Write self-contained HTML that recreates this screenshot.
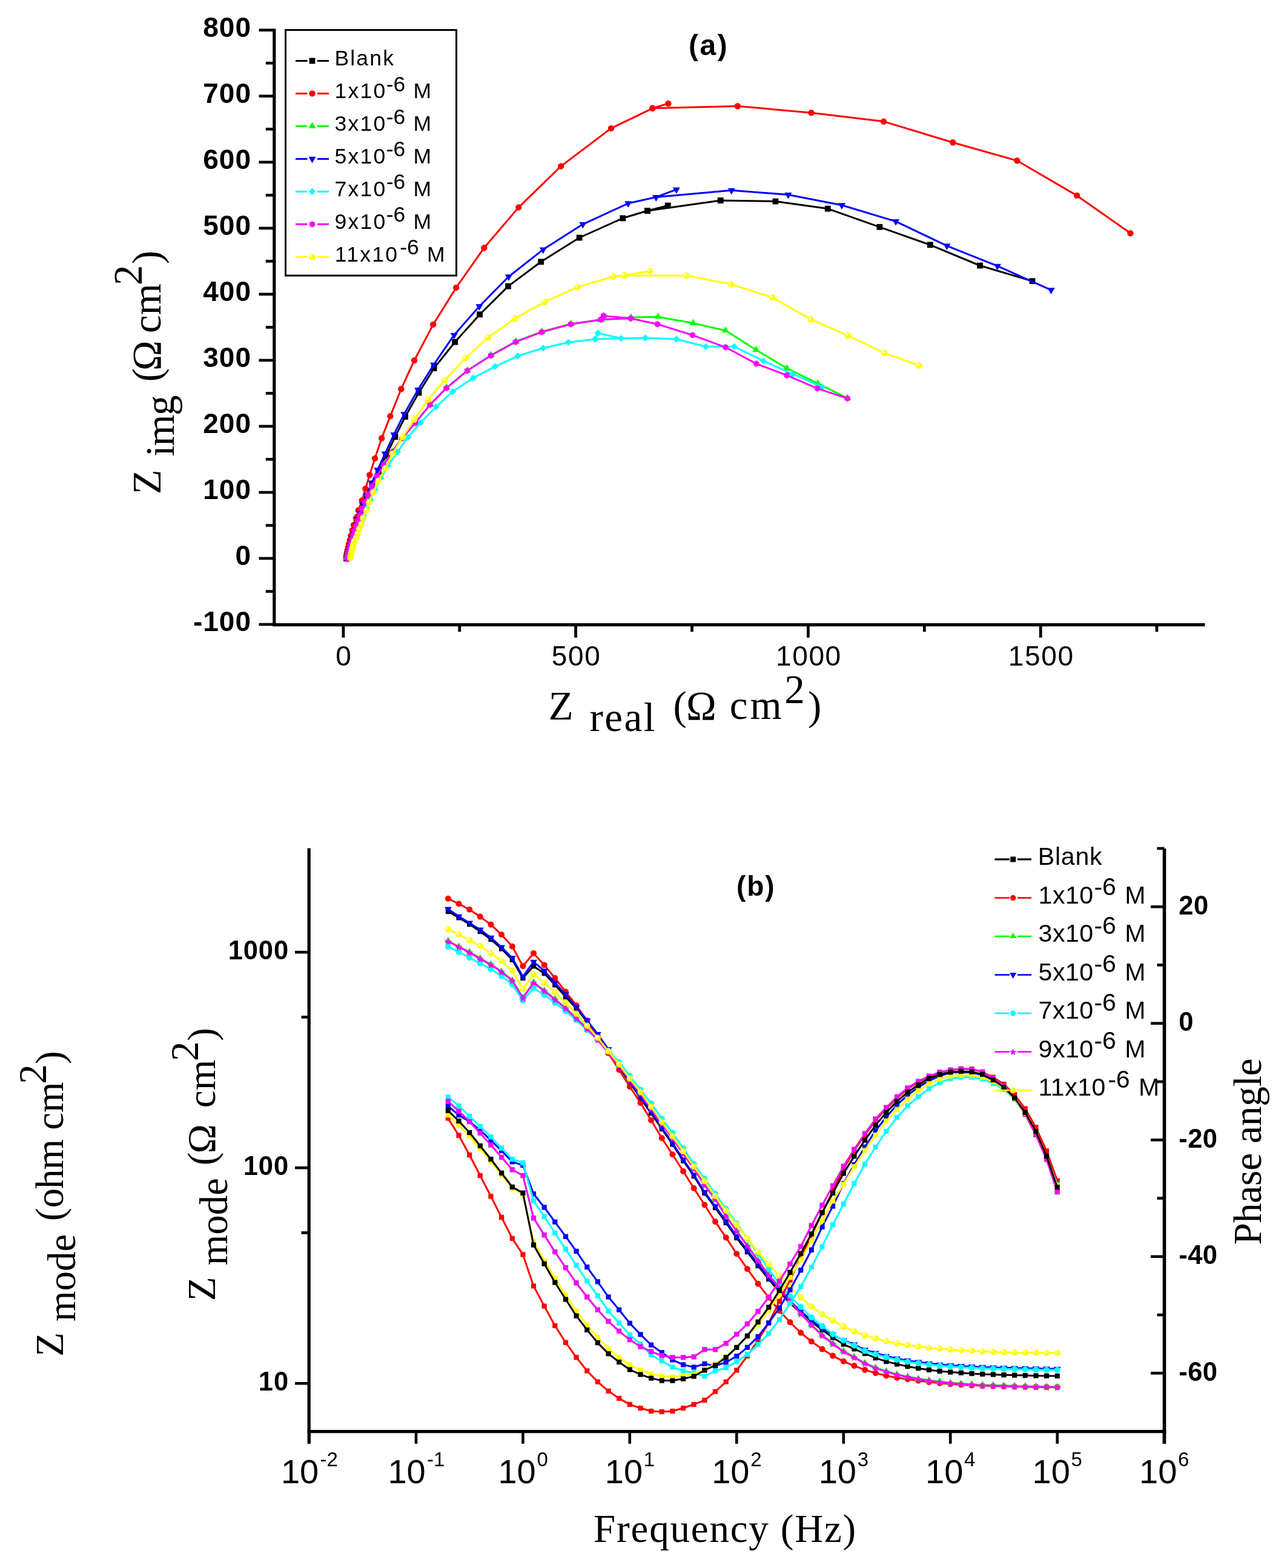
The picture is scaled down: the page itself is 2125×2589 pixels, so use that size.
<!DOCTYPE html><html><head><meta charset="utf-8"><title>EIS plots</title><style>html,body{margin:0;padding:0;background:#fff;overflow:hidden;}svg{display:block;}</style></head><body>
<svg width="2125" height="2589" viewBox="0 0 2125 2589">
<rect width="2125" height="2589" fill="#fff"/>
<g id="curves-a">
<path d="M572 922 L573 918 L574.2 913.5 L575.5 909 L576.9 904 L578.5 898.5 L580.2 892.5 L582.1 886 L584.1 879 L586.3 871.5 L588.8 863 L591.7 853.5 L595.1 843 L599.5 832 L606 818 L614.5 800.5 L625 779 L637.4 752.5 L652.4 721.4 L669.1 688 L691.5 648.5 L716.6 608 L751.2 564.7 L792.1 519.2 L839.1 472.6 L893.2 432.3 L956.6 392.5 L1028.3 360.3 L1069 348 L1102.7 339.4 L1069 348 L1189.7 331 L1280.4 332.5 L1366.8 344.6 L1452.4 374.8 L1535.8 404.3 L1618 438.5 L1704.4 464.1" fill="none" stroke="#000000" stroke-width="3" stroke-linejoin="round"/>
<rect x="567.1" y="917.1" width="9.8" height="9.8" fill="#000000"/>
<rect x="568.1" y="913.1" width="9.8" height="9.8" fill="#000000"/>
<rect x="569.3" y="908.6" width="9.8" height="9.8" fill="#000000"/>
<rect x="570.6" y="904.1" width="9.8" height="9.8" fill="#000000"/>
<rect x="572" y="899.1" width="9.8" height="9.8" fill="#000000"/>
<rect x="573.6" y="893.6" width="9.8" height="9.8" fill="#000000"/>
<rect x="575.3" y="887.6" width="9.8" height="9.8" fill="#000000"/>
<rect x="577.2" y="881.1" width="9.8" height="9.8" fill="#000000"/>
<rect x="579.2" y="874.1" width="9.8" height="9.8" fill="#000000"/>
<rect x="581.4" y="866.6" width="9.8" height="9.8" fill="#000000"/>
<rect x="583.9" y="858.1" width="9.8" height="9.8" fill="#000000"/>
<rect x="586.8" y="848.6" width="9.8" height="9.8" fill="#000000"/>
<rect x="590.2" y="838.1" width="9.8" height="9.8" fill="#000000"/>
<rect x="594.6" y="827.1" width="9.8" height="9.8" fill="#000000"/>
<rect x="601.1" y="813.1" width="9.8" height="9.8" fill="#000000"/>
<rect x="609.6" y="795.6" width="9.8" height="9.8" fill="#000000"/>
<rect x="620.1" y="774.1" width="9.8" height="9.8" fill="#000000"/>
<rect x="632.5" y="747.6" width="9.8" height="9.8" fill="#000000"/>
<rect x="647.5" y="716.5" width="9.8" height="9.8" fill="#000000"/>
<rect x="664.2" y="683.1" width="9.8" height="9.8" fill="#000000"/>
<rect x="686.6" y="643.6" width="9.8" height="9.8" fill="#000000"/>
<rect x="711.7" y="603.1" width="9.8" height="9.8" fill="#000000"/>
<rect x="746.3" y="559.8" width="9.8" height="9.8" fill="#000000"/>
<rect x="787.2" y="514.3" width="9.8" height="9.8" fill="#000000"/>
<rect x="834.2" y="467.7" width="9.8" height="9.8" fill="#000000"/>
<rect x="888.3" y="427.4" width="9.8" height="9.8" fill="#000000"/>
<rect x="951.7" y="387.6" width="9.8" height="9.8" fill="#000000"/>
<rect x="1023.4" y="355.4" width="9.8" height="9.8" fill="#000000"/>
<rect x="1064.1" y="343.1" width="9.8" height="9.8" fill="#000000"/>
<rect x="1097.8" y="334.5" width="9.8" height="9.8" fill="#000000"/>
<rect x="1064.1" y="343.1" width="9.8" height="9.8" fill="#000000"/>
<rect x="1184.8" y="326.1" width="9.8" height="9.8" fill="#000000"/>
<rect x="1275.5" y="327.6" width="9.8" height="9.8" fill="#000000"/>
<rect x="1361.9" y="339.7" width="9.8" height="9.8" fill="#000000"/>
<rect x="1447.5" y="369.9" width="9.8" height="9.8" fill="#000000"/>
<rect x="1530.9" y="399.4" width="9.8" height="9.8" fill="#000000"/>
<rect x="1613.1" y="433.6" width="9.8" height="9.8" fill="#000000"/>
<rect x="1699.5" y="459.2" width="9.8" height="9.8" fill="#000000"/>
<path d="M571.5 921 L572 917 L572.9 912.7 L573.7 908.7 L574.9 903.9 L576.1 898.3 L577.7 891.8 L579.3 884.6 L581.7 875.8 L584.1 866.9 L588.1 855.3 L591.8 842.4 L597.8 826.3 L603.4 807 L610.3 784.2 L619 756.9 L630.2 723.5 L644.4 687.1 L662.4 642.2 L684.1 595 L715.2 535.9 L753.2 474.9 L799.3 409.2 L856.3 342.4 L926.3 274.4 L1009 211.9 L1077.4 178.8 L1103.4 171 L1077.4 178.8 L1217.9 175.2 L1339.5 186.2 L1459 200.6 L1573.3 235.3 L1679.3 265.3 L1778.1 322.9 L1866.4 385.1" fill="none" stroke="#FF0000" stroke-width="3" stroke-linejoin="round"/>
<circle cx="571.5" cy="921" r="5.2" fill="#FF0000"/>
<circle cx="572" cy="917" r="5.2" fill="#FF0000"/>
<circle cx="572.9" cy="912.7" r="5.2" fill="#FF0000"/>
<circle cx="573.7" cy="908.7" r="5.2" fill="#FF0000"/>
<circle cx="574.9" cy="903.9" r="5.2" fill="#FF0000"/>
<circle cx="576.1" cy="898.3" r="5.2" fill="#FF0000"/>
<circle cx="577.7" cy="891.8" r="5.2" fill="#FF0000"/>
<circle cx="579.3" cy="884.6" r="5.2" fill="#FF0000"/>
<circle cx="581.7" cy="875.8" r="5.2" fill="#FF0000"/>
<circle cx="584.1" cy="866.9" r="5.2" fill="#FF0000"/>
<circle cx="588.1" cy="855.3" r="5.2" fill="#FF0000"/>
<circle cx="591.8" cy="842.4" r="5.2" fill="#FF0000"/>
<circle cx="597.8" cy="826.3" r="5.2" fill="#FF0000"/>
<circle cx="603.4" cy="807" r="5.2" fill="#FF0000"/>
<circle cx="610.3" cy="784.2" r="5.2" fill="#FF0000"/>
<circle cx="619" cy="756.9" r="5.2" fill="#FF0000"/>
<circle cx="630.2" cy="723.5" r="5.2" fill="#FF0000"/>
<circle cx="644.4" cy="687.1" r="5.2" fill="#FF0000"/>
<circle cx="662.4" cy="642.2" r="5.2" fill="#FF0000"/>
<circle cx="684.1" cy="595" r="5.2" fill="#FF0000"/>
<circle cx="715.2" cy="535.9" r="5.2" fill="#FF0000"/>
<circle cx="753.2" cy="474.9" r="5.2" fill="#FF0000"/>
<circle cx="799.3" cy="409.2" r="5.2" fill="#FF0000"/>
<circle cx="856.3" cy="342.4" r="5.2" fill="#FF0000"/>
<circle cx="926.3" cy="274.4" r="5.2" fill="#FF0000"/>
<circle cx="1009" cy="211.9" r="5.2" fill="#FF0000"/>
<circle cx="1077.4" cy="178.8" r="5.2" fill="#FF0000"/>
<circle cx="1103.4" cy="171" r="5.2" fill="#FF0000"/>
<circle cx="1077.4" cy="178.8" r="5.2" fill="#FF0000"/>
<circle cx="1217.9" cy="175.2" r="5.2" fill="#FF0000"/>
<circle cx="1339.5" cy="186.2" r="5.2" fill="#FF0000"/>
<circle cx="1459" cy="200.6" r="5.2" fill="#FF0000"/>
<circle cx="1573.3" cy="235.3" r="5.2" fill="#FF0000"/>
<circle cx="1679.3" cy="265.3" r="5.2" fill="#FF0000"/>
<circle cx="1778.1" cy="322.9" r="5.2" fill="#FF0000"/>
<circle cx="1866.4" cy="385.1" r="5.2" fill="#FF0000"/>
<path d="M574 921.2 L575 916.7 L576 912.2 L577.3 907.2 L578.7 901.7 L580.3 895.7 L582.1 889.2 L584.1 882.2 L586.3 874.7 L588.8 866.7 L591.7 858.2 L595 849.2 L598.7 839.2 L603 828.2 L608 816.2 L614.5 802.2 L623 785.7 L634 766.7 L647.7 745.9 L664.4 722.9 L686.3 697.5 L710.5 667.6 L737.5 640.1 L771.9 611.5 L810.8 586.4 L851.7 563.9 L894.9 547.5 L942.7 534.6 L992.3 528.4 L996.7 522 L992.3 528.4 L1041.6 524.1 L1086.5 523.2 L1144.4 533.6 L1198 545.7 L1248.4 577.8 L1299.2 608 L1350.2 633.2 L1399.2 657.4" fill="none" stroke="#00FF00" stroke-width="3" stroke-linejoin="round"/>
<path d="M574 914.4L580.2 924.6L567.8 924.6Z" fill="#00FF00"/>
<path d="M575 909.9L581.2 920.1L568.8 920.1Z" fill="#00FF00"/>
<path d="M576 905.4L582.2 915.6L569.8 915.6Z" fill="#00FF00"/>
<path d="M577.3 900.4L583.5 910.6L571.1 910.6Z" fill="#00FF00"/>
<path d="M578.7 894.9L584.9 905.1L572.5 905.1Z" fill="#00FF00"/>
<path d="M580.3 888.9L586.5 899.1L574.1 899.1Z" fill="#00FF00"/>
<path d="M582.1 882.4L588.3 892.6L575.9 892.6Z" fill="#00FF00"/>
<path d="M584.1 875.4L590.3 885.6L577.9 885.6Z" fill="#00FF00"/>
<path d="M586.3 867.9L592.5 878.1L580.1 878.1Z" fill="#00FF00"/>
<path d="M588.8 859.9L595 870.1L582.6 870.1Z" fill="#00FF00"/>
<path d="M591.7 851.4L597.9 861.6L585.5 861.6Z" fill="#00FF00"/>
<path d="M595 842.4L601.2 852.6L588.8 852.6Z" fill="#00FF00"/>
<path d="M598.7 832.4L604.9 842.6L592.5 842.6Z" fill="#00FF00"/>
<path d="M603 821.4L609.2 831.6L596.8 831.6Z" fill="#00FF00"/>
<path d="M608 809.4L614.2 819.6L601.8 819.6Z" fill="#00FF00"/>
<path d="M614.5 795.4L620.7 805.6L608.3 805.6Z" fill="#00FF00"/>
<path d="M623 778.9L629.2 789.1L616.8 789.1Z" fill="#00FF00"/>
<path d="M634 759.9L640.2 770.1L627.8 770.1Z" fill="#00FF00"/>
<path d="M647.7 739.1L653.9 749.3L641.5 749.3Z" fill="#00FF00"/>
<path d="M664.4 716.1L670.6 726.3L658.2 726.3Z" fill="#00FF00"/>
<path d="M686.3 690.7L692.5 700.9L680.1 700.9Z" fill="#00FF00"/>
<path d="M710.5 660.8L716.7 671L704.3 671Z" fill="#00FF00"/>
<path d="M737.5 633.3L743.7 643.5L731.3 643.5Z" fill="#00FF00"/>
<path d="M771.9 604.7L778.1 614.9L765.7 614.9Z" fill="#00FF00"/>
<path d="M810.8 579.6L817 589.8L804.6 589.8Z" fill="#00FF00"/>
<path d="M851.7 557.1L857.9 567.3L845.5 567.3Z" fill="#00FF00"/>
<path d="M894.9 540.7L901.1 550.9L888.7 550.9Z" fill="#00FF00"/>
<path d="M942.7 527.8L948.9 538L936.5 538Z" fill="#00FF00"/>
<path d="M992.3 521.6L998.5 531.8L986.1 531.8Z" fill="#00FF00"/>
<path d="M996.7 515.2L1002.9 525.4L990.5 525.4Z" fill="#00FF00"/>
<path d="M992.3 521.6L998.5 531.8L986.1 531.8Z" fill="#00FF00"/>
<path d="M1041.6 517.3L1047.8 527.5L1035.4 527.5Z" fill="#00FF00"/>
<path d="M1086.5 516.4L1092.7 526.6L1080.3 526.6Z" fill="#00FF00"/>
<path d="M1144.4 526.8L1150.6 537L1138.2 537Z" fill="#00FF00"/>
<path d="M1198 538.9L1204.2 549.1L1191.8 549.1Z" fill="#00FF00"/>
<path d="M1248.4 571L1254.6 581.2L1242.2 581.2Z" fill="#00FF00"/>
<path d="M1299.2 601.2L1305.4 611.4L1293 611.4Z" fill="#00FF00"/>
<path d="M1350.2 626.4L1356.4 636.6L1344 636.6Z" fill="#00FF00"/>
<path d="M1399.2 650.6L1405.4 660.8L1393 660.8Z" fill="#00FF00"/>
<path d="M573 922 L574 918 L575 914 L576.3 909.5 L577.6 905 L579 900 L580.6 894.5 L582.3 888.5 L584 881.5 L585.9 874.5 L588 866.5 L590.5 857.5 L593.8 847.2 L598.6 832.7 L605.8 817.1 L613.9 797 L623.5 775.8 L635.7 749 L650.5 717.4 L667.4 683.4 L690.2 643.4 L716.1 602.2 L749.8 553.2 L791.5 505.7 L839.9 456.7 L896.7 412.1 L962.3 370.3 L1037.2 335.8 L1083.3 325.5 L1116.8 312.9 L1083.3 325.5 L1207.8 314.3 L1301.4 321.5 L1389.9 338.8 L1479.1 365.6 L1563.4 405.8 L1646.8 439.2 L1735.5 478.8" fill="none" stroke="#0000FF" stroke-width="3" stroke-linejoin="round"/>
<path d="M566.9 918.5L579.1 918.5L573 929.1Z" fill="#0000FF"/>
<path d="M567.9 914.5L580.1 914.5L574 925.1Z" fill="#0000FF"/>
<path d="M568.9 910.5L581.1 910.5L575 921.1Z" fill="#0000FF"/>
<path d="M570.2 906L582.4 906L576.3 916.6Z" fill="#0000FF"/>
<path d="M571.5 901.5L583.7 901.5L577.6 912.1Z" fill="#0000FF"/>
<path d="M572.9 896.5L585.1 896.5L579 907.1Z" fill="#0000FF"/>
<path d="M574.5 891L586.7 891L580.6 901.6Z" fill="#0000FF"/>
<path d="M576.2 885L588.4 885L582.3 895.6Z" fill="#0000FF"/>
<path d="M577.9 878L590.1 878L584 888.6Z" fill="#0000FF"/>
<path d="M579.8 871L592 871L585.9 881.6Z" fill="#0000FF"/>
<path d="M581.9 863L594.1 863L588 873.6Z" fill="#0000FF"/>
<path d="M584.4 854L596.6 854L590.5 864.6Z" fill="#0000FF"/>
<path d="M587.7 843.7L599.9 843.7L593.8 854.3Z" fill="#0000FF"/>
<path d="M592.5 829.2L604.7 829.2L598.6 839.8Z" fill="#0000FF"/>
<path d="M599.7 813.6L611.9 813.6L605.8 824.2Z" fill="#0000FF"/>
<path d="M607.8 793.5L620 793.5L613.9 804.1Z" fill="#0000FF"/>
<path d="M617.4 772.3L629.6 772.3L623.5 782.9Z" fill="#0000FF"/>
<path d="M629.6 745.5L641.8 745.5L635.7 756.1Z" fill="#0000FF"/>
<path d="M644.4 713.9L656.6 713.9L650.5 724.5Z" fill="#0000FF"/>
<path d="M661.3 679.9L673.5 679.9L667.4 690.5Z" fill="#0000FF"/>
<path d="M684.1 639.9L696.3 639.9L690.2 650.5Z" fill="#0000FF"/>
<path d="M710 598.7L722.2 598.7L716.1 609.3Z" fill="#0000FF"/>
<path d="M743.7 549.7L755.9 549.7L749.8 560.3Z" fill="#0000FF"/>
<path d="M785.4 502.2L797.6 502.2L791.5 512.8Z" fill="#0000FF"/>
<path d="M833.8 453.2L846 453.2L839.9 463.8Z" fill="#0000FF"/>
<path d="M890.6 408.6L902.8 408.6L896.7 419.2Z" fill="#0000FF"/>
<path d="M956.2 366.8L968.4 366.8L962.3 377.4Z" fill="#0000FF"/>
<path d="M1031.1 332.3L1043.3 332.3L1037.2 342.9Z" fill="#0000FF"/>
<path d="M1077.2 322L1089.4 322L1083.3 332.6Z" fill="#0000FF"/>
<path d="M1110.7 309.4L1122.9 309.4L1116.8 320Z" fill="#0000FF"/>
<path d="M1077.2 322L1089.4 322L1083.3 332.6Z" fill="#0000FF"/>
<path d="M1201.7 310.8L1213.9 310.8L1207.8 321.4Z" fill="#0000FF"/>
<path d="M1295.3 318L1307.5 318L1301.4 328.6Z" fill="#0000FF"/>
<path d="M1383.8 335.3L1396 335.3L1389.9 345.9Z" fill="#0000FF"/>
<path d="M1473 362.1L1485.2 362.1L1479.1 372.7Z" fill="#0000FF"/>
<path d="M1557.3 402.3L1569.5 402.3L1563.4 412.9Z" fill="#0000FF"/>
<path d="M1640.7 435.7L1652.9 435.7L1646.8 446.3Z" fill="#0000FF"/>
<path d="M1729.4 475.3L1741.6 475.3L1735.5 485.9Z" fill="#0000FF"/>
<path d="M573 921.5 L574.3 917.5 L575.8 913.5 L577.5 909 L579.5 904 L581.5 898.5 L584 892.5 L586.5 886 L589.5 879 L593 871 L596.5 862 L600.4 851.2 L605.5 838.5 L611.7 825.5 L619.3 808.2 L629 789.3 L640.6 768.8 L656.5 746.2 L673.7 722 L694.5 697.8 L719.8 671.8 L747.5 646.5 L781.2 624.2 L817.5 605.1 L854.9 587.8 L896.7 574.8 L938.4 565.3 L982.5 559.9 L987.2 550 L982.5 559.9 L1025.5 558.6 L1065.6 558 L1116.8 560 L1165.5 572.3 L1212.4 572.3 L1260.5 595.9 L1308.9 617.7 L1357.3 638.7" fill="none" stroke="#00FFFF" stroke-width="3" stroke-linejoin="round"/>
<path d="M573 915.8L578.7 921.5L573 927.2L567.3 921.5Z" fill="#00FFFF"/>
<path d="M574.3 911.8L580 917.5L574.3 923.2L568.6 917.5Z" fill="#00FFFF"/>
<path d="M575.8 907.8L581.5 913.5L575.8 919.2L570.1 913.5Z" fill="#00FFFF"/>
<path d="M577.5 903.3L583.2 909L577.5 914.7L571.8 909Z" fill="#00FFFF"/>
<path d="M579.5 898.3L585.2 904L579.5 909.7L573.8 904Z" fill="#00FFFF"/>
<path d="M581.5 892.8L587.2 898.5L581.5 904.2L575.8 898.5Z" fill="#00FFFF"/>
<path d="M584 886.8L589.7 892.5L584 898.2L578.3 892.5Z" fill="#00FFFF"/>
<path d="M586.5 880.3L592.2 886L586.5 891.7L580.8 886Z" fill="#00FFFF"/>
<path d="M589.5 873.3L595.2 879L589.5 884.7L583.8 879Z" fill="#00FFFF"/>
<path d="M593 865.3L598.7 871L593 876.7L587.3 871Z" fill="#00FFFF"/>
<path d="M596.5 856.3L602.2 862L596.5 867.7L590.8 862Z" fill="#00FFFF"/>
<path d="M600.4 845.5L606.1 851.2L600.4 856.9L594.7 851.2Z" fill="#00FFFF"/>
<path d="M605.5 832.8L611.2 838.5L605.5 844.2L599.8 838.5Z" fill="#00FFFF"/>
<path d="M611.7 819.8L617.4 825.5L611.7 831.2L606 825.5Z" fill="#00FFFF"/>
<path d="M619.3 802.5L625 808.2L619.3 813.9L613.6 808.2Z" fill="#00FFFF"/>
<path d="M629 783.6L634.7 789.3L629 795L623.3 789.3Z" fill="#00FFFF"/>
<path d="M640.6 763.1L646.3 768.8L640.6 774.5L634.9 768.8Z" fill="#00FFFF"/>
<path d="M656.5 740.5L662.2 746.2L656.5 751.9L650.8 746.2Z" fill="#00FFFF"/>
<path d="M673.7 716.3L679.4 722L673.7 727.7L668 722Z" fill="#00FFFF"/>
<path d="M694.5 692.1L700.2 697.8L694.5 703.5L688.8 697.8Z" fill="#00FFFF"/>
<path d="M719.8 666.1L725.5 671.8L719.8 677.5L714.1 671.8Z" fill="#00FFFF"/>
<path d="M747.5 640.8L753.2 646.5L747.5 652.2L741.8 646.5Z" fill="#00FFFF"/>
<path d="M781.2 618.5L786.9 624.2L781.2 629.9L775.5 624.2Z" fill="#00FFFF"/>
<path d="M817.5 599.4L823.2 605.1L817.5 610.8L811.8 605.1Z" fill="#00FFFF"/>
<path d="M854.9 582.1L860.6 587.8L854.9 593.5L849.2 587.8Z" fill="#00FFFF"/>
<path d="M896.7 569.1L902.4 574.8L896.7 580.5L891 574.8Z" fill="#00FFFF"/>
<path d="M938.4 559.6L944.1 565.3L938.4 571L932.7 565.3Z" fill="#00FFFF"/>
<path d="M982.5 554.2L988.2 559.9L982.5 565.6L976.8 559.9Z" fill="#00FFFF"/>
<path d="M987.2 544.3L992.9 550L987.2 555.7L981.5 550Z" fill="#00FFFF"/>
<path d="M982.5 554.2L988.2 559.9L982.5 565.6L976.8 559.9Z" fill="#00FFFF"/>
<path d="M1025.5 552.9L1031.2 558.6L1025.5 564.3L1019.8 558.6Z" fill="#00FFFF"/>
<path d="M1065.6 552.3L1071.3 558L1065.6 563.7L1059.9 558Z" fill="#00FFFF"/>
<path d="M1116.8 554.3L1122.5 560L1116.8 565.7L1111.1 560Z" fill="#00FFFF"/>
<path d="M1165.5 566.6L1171.2 572.3L1165.5 578L1159.8 572.3Z" fill="#00FFFF"/>
<path d="M1212.4 566.6L1218.1 572.3L1212.4 578L1206.7 572.3Z" fill="#00FFFF"/>
<path d="M1260.5 590.2L1266.2 595.9L1260.5 601.6L1254.8 595.9Z" fill="#00FFFF"/>
<path d="M1308.9 612L1314.6 617.7L1308.9 623.4L1303.2 617.7Z" fill="#00FFFF"/>
<path d="M1357.3 633L1363 638.7L1357.3 644.4L1351.6 638.7Z" fill="#00FFFF"/>
<path d="M987.2 550L1025.5 558.6" stroke="#00FFFF" stroke-width="3" fill="none"/>
<path d="M573.5 922 L574.5 917.5 L575.5 913 L576.8 908 L578.2 902.5 L579.8 896.5 L581.6 890 L583.6 883 L585.8 875.5 L588.3 867.5 L591.2 859 L594.5 850 L598.2 840 L602.5 829 L607.5 817 L614 803 L622.5 786.5 L633.5 767.5 L647.2 746.7 L663.9 723.7 L685.8 698.3 L710 668.4 L737 640.9 L771.4 612.3 L810.3 587.2 L851.2 564.7 L894.4 548.3 L942.2 535.4 L992.3 527.5 L996.7 521.5 L992.3 527.5 L1041.6 525.8 L1085.6 535.3 L1143.5 553.4 L1198 573.3 L1248.8 600.6 L1299.2 619.7 L1349.6 641.3 L1399.2 657.8" fill="none" stroke="#FF00FF" stroke-width="3" stroke-linejoin="round"/>
<path d="M573.5 916.6L568.9 919.3L568.9 924.7L573.5 927.4L578.1 924.7L578.1 919.3Z" fill="#FF00FF"/>
<path d="M574.5 912.1L569.9 914.8L569.9 920.2L574.5 922.9L579.1 920.2L579.1 914.8Z" fill="#FF00FF"/>
<path d="M575.5 907.6L570.9 910.3L570.9 915.7L575.5 918.4L580.1 915.7L580.1 910.3Z" fill="#FF00FF"/>
<path d="M576.8 902.6L572.2 905.3L572.2 910.7L576.8 913.4L581.4 910.7L581.4 905.3Z" fill="#FF00FF"/>
<path d="M578.2 897.1L573.6 899.8L573.6 905.2L578.2 907.9L582.8 905.2L582.8 899.8Z" fill="#FF00FF"/>
<path d="M579.8 891.1L575.2 893.8L575.2 899.2L579.8 901.9L584.4 899.2L584.4 893.8Z" fill="#FF00FF"/>
<path d="M581.6 884.6L577 887.3L577 892.7L581.6 895.4L586.2 892.7L586.2 887.3Z" fill="#FF00FF"/>
<path d="M583.6 877.6L579 880.3L579 885.7L583.6 888.4L588.2 885.7L588.2 880.3Z" fill="#FF00FF"/>
<path d="M585.8 870.1L581.2 872.8L581.2 878.2L585.8 880.9L590.4 878.2L590.4 872.8Z" fill="#FF00FF"/>
<path d="M588.3 862.1L583.7 864.8L583.7 870.2L588.3 872.9L592.9 870.2L592.9 864.8Z" fill="#FF00FF"/>
<path d="M591.2 853.6L586.6 856.3L586.6 861.7L591.2 864.4L595.8 861.7L595.8 856.3Z" fill="#FF00FF"/>
<path d="M594.5 844.6L589.9 847.3L589.9 852.7L594.5 855.4L599.1 852.7L599.1 847.3Z" fill="#FF00FF"/>
<path d="M598.2 834.6L593.6 837.3L593.6 842.7L598.2 845.4L602.8 842.7L602.8 837.3Z" fill="#FF00FF"/>
<path d="M602.5 823.6L597.9 826.3L597.9 831.7L602.5 834.4L607.1 831.7L607.1 826.3Z" fill="#FF00FF"/>
<path d="M607.5 811.6L602.9 814.3L602.9 819.7L607.5 822.4L612.1 819.7L612.1 814.3Z" fill="#FF00FF"/>
<path d="M614 797.6L609.4 800.3L609.4 805.7L614 808.4L618.6 805.7L618.6 800.3Z" fill="#FF00FF"/>
<path d="M622.5 781.1L617.9 783.8L617.9 789.2L622.5 791.9L627.1 789.2L627.1 783.8Z" fill="#FF00FF"/>
<path d="M633.5 762.1L628.9 764.8L628.9 770.2L633.5 772.9L638.1 770.2L638.1 764.8Z" fill="#FF00FF"/>
<path d="M647.2 741.3L642.6 744L642.6 749.4L647.2 752.1L651.8 749.4L651.8 744Z" fill="#FF00FF"/>
<path d="M663.9 718.3L659.3 721L659.3 726.4L663.9 729.1L668.5 726.4L668.5 721Z" fill="#FF00FF"/>
<path d="M685.8 692.9L681.2 695.6L681.2 701L685.8 703.7L690.4 701L690.4 695.6Z" fill="#FF00FF"/>
<path d="M710 663L705.4 665.7L705.4 671.1L710 673.8L714.6 671.1L714.6 665.7Z" fill="#FF00FF"/>
<path d="M737 635.5L732.4 638.2L732.4 643.6L737 646.3L741.6 643.6L741.6 638.2Z" fill="#FF00FF"/>
<path d="M771.4 606.9L766.8 609.6L766.8 615L771.4 617.7L776 615L776 609.6Z" fill="#FF00FF"/>
<path d="M810.3 581.8L805.7 584.5L805.7 589.9L810.3 592.6L814.9 589.9L814.9 584.5Z" fill="#FF00FF"/>
<path d="M851.2 559.3L846.6 562L846.6 567.4L851.2 570.1L855.8 567.4L855.8 562Z" fill="#FF00FF"/>
<path d="M894.4 542.9L889.8 545.6L889.8 551L894.4 553.7L899 551L899 545.6Z" fill="#FF00FF"/>
<path d="M942.2 530L937.6 532.7L937.6 538.1L942.2 540.8L946.8 538.1L946.8 532.7Z" fill="#FF00FF"/>
<path d="M992.3 522.1L987.7 524.8L987.7 530.2L992.3 532.9L996.9 530.2L996.9 524.8Z" fill="#FF00FF"/>
<path d="M996.7 516.1L992.1 518.8L992.1 524.2L996.7 526.9L1001.3 524.2L1001.3 518.8Z" fill="#FF00FF"/>
<path d="M992.3 522.1L987.7 524.8L987.7 530.2L992.3 532.9L996.9 530.2L996.9 524.8Z" fill="#FF00FF"/>
<path d="M1041.6 520.4L1037 523.1L1037 528.5L1041.6 531.2L1046.2 528.5L1046.2 523.1Z" fill="#FF00FF"/>
<path d="M1085.6 529.9L1081 532.6L1081 538L1085.6 540.7L1090.2 538L1090.2 532.6Z" fill="#FF00FF"/>
<path d="M1143.5 548L1138.9 550.7L1138.9 556.1L1143.5 558.8L1148.1 556.1L1148.1 550.7Z" fill="#FF00FF"/>
<path d="M1198 567.9L1193.4 570.6L1193.4 576L1198 578.7L1202.6 576L1202.6 570.6Z" fill="#FF00FF"/>
<path d="M1248.8 595.2L1244.2 597.9L1244.2 603.3L1248.8 606L1253.4 603.3L1253.4 597.9Z" fill="#FF00FF"/>
<path d="M1299.2 614.3L1294.6 617L1294.6 622.4L1299.2 625.1L1303.8 622.4L1303.8 617Z" fill="#FF00FF"/>
<path d="M1349.6 635.9L1345 638.6L1345 644L1349.6 646.7L1354.2 644L1354.2 638.6Z" fill="#FF00FF"/>
<path d="M1399.2 652.4L1394.6 655.1L1394.6 660.5L1399.2 663.2L1403.8 660.5L1403.8 655.1Z" fill="#FF00FF"/>
<path d="M996.7 521.5L1041.6 525.8" stroke="#FF00FF" stroke-width="3" fill="none"/>
<path d="M578.5 921 L579.2 917 L580 913 L581 909 L582 904.5 L583.3 899.1 L584.9 893.4 L588.1 887.8 L590.5 881.4 L593 873.3 L596.6 865.3 L599.4 855.3 L605.4 842.8 L609.4 829.5 L616.7 812.7 L625.1 793.8 L636.3 773 L648.4 749 L665.1 721.4 L683.9 692.6 L707.1 659.7 L734.3 627.8 L768.5 591.2 L805.9 557.5 L850 525.9 L899.5 498.5 L953.7 474 L1012.4 456.7 L1030.6 454.7 L1073 447.5 L1030.6 454.7 L1133.5 454.9 L1207 469.3 L1275 491.1 L1339.1 527.4 L1400.2 554.2 L1460.1 582.8 L1517.5 603.4" fill="none" stroke="#FFFF00" stroke-width="3" stroke-linejoin="round"/>
<circle cx="578.5" cy="921" r="5.3" fill="#FFFF00"/><circle cx="576.7" cy="919.3" r="2.3" fill="#FFFFA0"/><circle cx="576.5" cy="919.1" r="1.1" fill="#fff"/>
<circle cx="579.2" cy="917" r="5.3" fill="#FFFF00"/><circle cx="577.4" cy="915.3" r="2.3" fill="#FFFFA0"/><circle cx="577.2" cy="915.1" r="1.1" fill="#fff"/>
<circle cx="580" cy="913" r="5.3" fill="#FFFF00"/><circle cx="578.2" cy="911.3" r="2.3" fill="#FFFFA0"/><circle cx="578" cy="911.1" r="1.1" fill="#fff"/>
<circle cx="581" cy="909" r="5.3" fill="#FFFF00"/><circle cx="579.2" cy="907.3" r="2.3" fill="#FFFFA0"/><circle cx="579" cy="907.1" r="1.1" fill="#fff"/>
<circle cx="582" cy="904.5" r="5.3" fill="#FFFF00"/><circle cx="580.2" cy="902.8" r="2.3" fill="#FFFFA0"/><circle cx="580" cy="902.6" r="1.1" fill="#fff"/>
<circle cx="583.3" cy="899.1" r="5.3" fill="#FFFF00"/><circle cx="581.5" cy="897.4" r="2.3" fill="#FFFFA0"/><circle cx="581.3" cy="897.2" r="1.1" fill="#fff"/>
<circle cx="584.9" cy="893.4" r="5.3" fill="#FFFF00"/><circle cx="583.1" cy="891.7" r="2.3" fill="#FFFFA0"/><circle cx="582.9" cy="891.5" r="1.1" fill="#fff"/>
<circle cx="588.1" cy="887.8" r="5.3" fill="#FFFF00"/><circle cx="586.3" cy="886.1" r="2.3" fill="#FFFFA0"/><circle cx="586.1" cy="885.9" r="1.1" fill="#fff"/>
<circle cx="590.5" cy="881.4" r="5.3" fill="#FFFF00"/><circle cx="588.7" cy="879.7" r="2.3" fill="#FFFFA0"/><circle cx="588.5" cy="879.5" r="1.1" fill="#fff"/>
<circle cx="593" cy="873.3" r="5.3" fill="#FFFF00"/><circle cx="591.2" cy="871.6" r="2.3" fill="#FFFFA0"/><circle cx="591" cy="871.4" r="1.1" fill="#fff"/>
<circle cx="596.6" cy="865.3" r="5.3" fill="#FFFF00"/><circle cx="594.8" cy="863.6" r="2.3" fill="#FFFFA0"/><circle cx="594.6" cy="863.4" r="1.1" fill="#fff"/>
<circle cx="599.4" cy="855.3" r="5.3" fill="#FFFF00"/><circle cx="597.6" cy="853.6" r="2.3" fill="#FFFFA0"/><circle cx="597.4" cy="853.4" r="1.1" fill="#fff"/>
<circle cx="605.4" cy="842.8" r="5.3" fill="#FFFF00"/><circle cx="603.6" cy="841.1" r="2.3" fill="#FFFFA0"/><circle cx="603.4" cy="840.9" r="1.1" fill="#fff"/>
<circle cx="609.4" cy="829.5" r="5.3" fill="#FFFF00"/><circle cx="607.6" cy="827.8" r="2.3" fill="#FFFFA0"/><circle cx="607.4" cy="827.6" r="1.1" fill="#fff"/>
<circle cx="616.7" cy="812.7" r="5.3" fill="#FFFF00"/><circle cx="614.9" cy="811" r="2.3" fill="#FFFFA0"/><circle cx="614.7" cy="810.8" r="1.1" fill="#fff"/>
<circle cx="625.1" cy="793.8" r="5.3" fill="#FFFF00"/><circle cx="623.3" cy="792.1" r="2.3" fill="#FFFFA0"/><circle cx="623.1" cy="791.9" r="1.1" fill="#fff"/>
<circle cx="636.3" cy="773" r="5.3" fill="#FFFF00"/><circle cx="634.5" cy="771.3" r="2.3" fill="#FFFFA0"/><circle cx="634.3" cy="771.1" r="1.1" fill="#fff"/>
<circle cx="648.4" cy="749" r="5.3" fill="#FFFF00"/><circle cx="646.6" cy="747.3" r="2.3" fill="#FFFFA0"/><circle cx="646.4" cy="747.1" r="1.1" fill="#fff"/>
<circle cx="665.1" cy="721.4" r="5.3" fill="#FFFF00"/><circle cx="663.3" cy="719.7" r="2.3" fill="#FFFFA0"/><circle cx="663.1" cy="719.5" r="1.1" fill="#fff"/>
<circle cx="683.9" cy="692.6" r="5.3" fill="#FFFF00"/><circle cx="682.1" cy="690.9" r="2.3" fill="#FFFFA0"/><circle cx="681.9" cy="690.7" r="1.1" fill="#fff"/>
<circle cx="707.1" cy="659.7" r="5.3" fill="#FFFF00"/><circle cx="705.3" cy="658" r="2.3" fill="#FFFFA0"/><circle cx="705.1" cy="657.8" r="1.1" fill="#fff"/>
<circle cx="734.3" cy="627.8" r="5.3" fill="#FFFF00"/><circle cx="732.5" cy="626.1" r="2.3" fill="#FFFFA0"/><circle cx="732.3" cy="625.9" r="1.1" fill="#fff"/>
<circle cx="768.5" cy="591.2" r="5.3" fill="#FFFF00"/><circle cx="766.7" cy="589.5" r="2.3" fill="#FFFFA0"/><circle cx="766.5" cy="589.3" r="1.1" fill="#fff"/>
<circle cx="805.9" cy="557.5" r="5.3" fill="#FFFF00"/><circle cx="804.1" cy="555.8" r="2.3" fill="#FFFFA0"/><circle cx="803.9" cy="555.6" r="1.1" fill="#fff"/>
<circle cx="850" cy="525.9" r="5.3" fill="#FFFF00"/><circle cx="848.2" cy="524.2" r="2.3" fill="#FFFFA0"/><circle cx="848" cy="524" r="1.1" fill="#fff"/>
<circle cx="899.5" cy="498.5" r="5.3" fill="#FFFF00"/><circle cx="897.7" cy="496.8" r="2.3" fill="#FFFFA0"/><circle cx="897.5" cy="496.6" r="1.1" fill="#fff"/>
<circle cx="953.7" cy="474" r="5.3" fill="#FFFF00"/><circle cx="951.9" cy="472.3" r="2.3" fill="#FFFFA0"/><circle cx="951.7" cy="472.1" r="1.1" fill="#fff"/>
<circle cx="1012.4" cy="456.7" r="5.3" fill="#FFFF00"/><circle cx="1010.6" cy="455" r="2.3" fill="#FFFFA0"/><circle cx="1010.4" cy="454.8" r="1.1" fill="#fff"/>
<circle cx="1030.6" cy="454.7" r="5.3" fill="#FFFF00"/><circle cx="1028.8" cy="453" r="2.3" fill="#FFFFA0"/><circle cx="1028.6" cy="452.8" r="1.1" fill="#fff"/>
<circle cx="1073" cy="447.5" r="5.3" fill="#FFFF00"/><circle cx="1071.2" cy="445.8" r="2.3" fill="#FFFFA0"/><circle cx="1071" cy="445.6" r="1.1" fill="#fff"/>
<circle cx="1030.6" cy="454.7" r="5.3" fill="#FFFF00"/><circle cx="1028.8" cy="453" r="2.3" fill="#FFFFA0"/><circle cx="1028.6" cy="452.8" r="1.1" fill="#fff"/>
<circle cx="1133.5" cy="454.9" r="5.3" fill="#FFFF00"/><circle cx="1131.7" cy="453.2" r="2.3" fill="#FFFFA0"/><circle cx="1131.5" cy="453" r="1.1" fill="#fff"/>
<circle cx="1207" cy="469.3" r="5.3" fill="#FFFF00"/><circle cx="1205.2" cy="467.6" r="2.3" fill="#FFFFA0"/><circle cx="1205" cy="467.4" r="1.1" fill="#fff"/>
<circle cx="1275" cy="491.1" r="5.3" fill="#FFFF00"/><circle cx="1273.2" cy="489.4" r="2.3" fill="#FFFFA0"/><circle cx="1273" cy="489.2" r="1.1" fill="#fff"/>
<circle cx="1339.1" cy="527.4" r="5.3" fill="#FFFF00"/><circle cx="1337.3" cy="525.7" r="2.3" fill="#FFFFA0"/><circle cx="1337.1" cy="525.5" r="1.1" fill="#fff"/>
<circle cx="1400.2" cy="554.2" r="5.3" fill="#FFFF00"/><circle cx="1398.4" cy="552.5" r="2.3" fill="#FFFFA0"/><circle cx="1398.2" cy="552.3" r="1.1" fill="#fff"/>
<circle cx="1460.1" cy="582.8" r="5.3" fill="#FFFF00"/><circle cx="1458.3" cy="581.1" r="2.3" fill="#FFFFA0"/><circle cx="1458.1" cy="580.9" r="1.1" fill="#fff"/>
<circle cx="1517.5" cy="603.4" r="5.3" fill="#FFFF00"/><circle cx="1515.7" cy="601.7" r="2.3" fill="#FFFFA0"/><circle cx="1515.5" cy="601.5" r="1.1" fill="#fff"/>
</g>
<line x1="452.8" y1="47.5" x2="452.8" y2="1034.1" stroke="#000" stroke-width="5.2" stroke-linecap="butt"/>
<line x1="450.3" y1="1031.6" x2="1989.5" y2="1031.6" stroke="#000" stroke-width="5.2" stroke-linecap="butt"/>
<line x1="427.5" y1="1031" x2="452.8" y2="1031" stroke="#000" stroke-width="4.6" stroke-linecap="butt"/>
<text x="415" y="1041.8" font-family="'Liberation Sans', Arial, sans-serif" font-size="46" font-weight="bold" text-anchor="end" letter-spacing="1">-100</text>
<line x1="427.5" y1="922" x2="452.8" y2="922" stroke="#000" stroke-width="4.6" stroke-linecap="butt"/>
<text x="415" y="932.8" font-family="'Liberation Sans', Arial, sans-serif" font-size="46" font-weight="bold" text-anchor="end" letter-spacing="1">0</text>
<line x1="427.5" y1="813" x2="452.8" y2="813" stroke="#000" stroke-width="4.6" stroke-linecap="butt"/>
<text x="415" y="823.8" font-family="'Liberation Sans', Arial, sans-serif" font-size="46" font-weight="bold" text-anchor="end" letter-spacing="1">100</text>
<line x1="427.5" y1="703.9" x2="452.8" y2="703.9" stroke="#000" stroke-width="4.6" stroke-linecap="butt"/>
<text x="415" y="714.7" font-family="'Liberation Sans', Arial, sans-serif" font-size="46" font-weight="bold" text-anchor="end" letter-spacing="1">200</text>
<line x1="427.5" y1="594.9" x2="452.8" y2="594.9" stroke="#000" stroke-width="4.6" stroke-linecap="butt"/>
<text x="415" y="605.7" font-family="'Liberation Sans', Arial, sans-serif" font-size="46" font-weight="bold" text-anchor="end" letter-spacing="1">300</text>
<line x1="427.5" y1="485.8" x2="452.8" y2="485.8" stroke="#000" stroke-width="4.6" stroke-linecap="butt"/>
<text x="415" y="496.6" font-family="'Liberation Sans', Arial, sans-serif" font-size="46" font-weight="bold" text-anchor="end" letter-spacing="1">400</text>
<line x1="427.5" y1="376.8" x2="452.8" y2="376.8" stroke="#000" stroke-width="4.6" stroke-linecap="butt"/>
<text x="415" y="387.6" font-family="'Liberation Sans', Arial, sans-serif" font-size="46" font-weight="bold" text-anchor="end" letter-spacing="1">500</text>
<line x1="427.5" y1="267.8" x2="452.8" y2="267.8" stroke="#000" stroke-width="4.6" stroke-linecap="butt"/>
<text x="415" y="278.6" font-family="'Liberation Sans', Arial, sans-serif" font-size="46" font-weight="bold" text-anchor="end" letter-spacing="1">600</text>
<line x1="427.5" y1="158.7" x2="452.8" y2="158.7" stroke="#000" stroke-width="4.6" stroke-linecap="butt"/>
<text x="415" y="169.5" font-family="'Liberation Sans', Arial, sans-serif" font-size="46" font-weight="bold" text-anchor="end" letter-spacing="1">700</text>
<line x1="427.5" y1="49.7" x2="452.8" y2="49.7" stroke="#000" stroke-width="4.6" stroke-linecap="butt"/>
<text x="415" y="60.5" font-family="'Liberation Sans', Arial, sans-serif" font-size="46" font-weight="bold" text-anchor="end" letter-spacing="1">800</text>
<line x1="438.8" y1="976.5" x2="452.8" y2="976.5" stroke="#000" stroke-width="4.6" stroke-linecap="butt"/>
<line x1="438.8" y1="867.5" x2="452.8" y2="867.5" stroke="#000" stroke-width="4.6" stroke-linecap="butt"/>
<line x1="438.8" y1="758.4" x2="452.8" y2="758.4" stroke="#000" stroke-width="4.6" stroke-linecap="butt"/>
<line x1="438.8" y1="649.4" x2="452.8" y2="649.4" stroke="#000" stroke-width="4.6" stroke-linecap="butt"/>
<line x1="438.8" y1="540.4" x2="452.8" y2="540.4" stroke="#000" stroke-width="4.6" stroke-linecap="butt"/>
<line x1="438.8" y1="431.3" x2="452.8" y2="431.3" stroke="#000" stroke-width="4.6" stroke-linecap="butt"/>
<line x1="438.8" y1="322.3" x2="452.8" y2="322.3" stroke="#000" stroke-width="4.6" stroke-linecap="butt"/>
<line x1="438.8" y1="213.2" x2="452.8" y2="213.2" stroke="#000" stroke-width="4.6" stroke-linecap="butt"/>
<line x1="438.8" y1="104.2" x2="452.8" y2="104.2" stroke="#000" stroke-width="4.6" stroke-linecap="butt"/>
<line x1="566.9" y1="1031.6" x2="566.9" y2="1052.8" stroke="#000" stroke-width="4.8" stroke-linecap="butt"/>
<text x="567.9" y="1098.5" font-family="'Liberation Sans', Arial, sans-serif" font-size="46" font-weight="normal" text-anchor="middle" letter-spacing="1.6">0</text>
<line x1="950.6" y1="1031.6" x2="950.6" y2="1052.8" stroke="#000" stroke-width="4.8" stroke-linecap="butt"/>
<text x="951.6" y="1098.5" font-family="'Liberation Sans', Arial, sans-serif" font-size="46" font-weight="normal" text-anchor="middle" letter-spacing="1.6">500</text>
<line x1="1334.4" y1="1031.6" x2="1334.4" y2="1052.8" stroke="#000" stroke-width="4.8" stroke-linecap="butt"/>
<text x="1335.4" y="1098.5" font-family="'Liberation Sans', Arial, sans-serif" font-size="46" font-weight="normal" text-anchor="middle" letter-spacing="1.6">1000</text>
<line x1="1718.2" y1="1031.6" x2="1718.2" y2="1052.8" stroke="#000" stroke-width="4.8" stroke-linecap="butt"/>
<text x="1719.2" y="1098.5" font-family="'Liberation Sans', Arial, sans-serif" font-size="46" font-weight="normal" text-anchor="middle" letter-spacing="1.6">1500</text>
<line x1="758.8" y1="1031.6" x2="758.8" y2="1043.2" stroke="#000" stroke-width="4.8" stroke-linecap="butt"/>
<line x1="1142.5" y1="1031.6" x2="1142.5" y2="1043.2" stroke="#000" stroke-width="4.8" stroke-linecap="butt"/>
<line x1="1526.3" y1="1031.6" x2="1526.3" y2="1043.2" stroke="#000" stroke-width="4.8" stroke-linecap="butt"/>
<line x1="1910" y1="1031.6" x2="1910" y2="1043.2" stroke="#000" stroke-width="4.8" stroke-linecap="butt"/>
<text x="1136.9" y="90.9" font-family="'Liberation Sans', Arial, sans-serif" font-size="48" font-weight="bold" text-anchor="start" letter-spacing="2.6">(a)</text>
<text x="905.8" y="1187.6" font-family="'Liberation Serif', 'Times New Roman', serif" font-size="67" letter-spacing="0">Z</text>
<text x="973.4" y="1206.6" font-family="'Liberation Serif', 'Times New Roman', serif" font-size="67" letter-spacing="2.5">real</text>
<text x="1111.4" y="1187.6" font-family="'Liberation Serif', 'Times New Roman', serif" font-size="67" letter-spacing="0">(</text>
<text x="1132.9" y="1187.6" font-family="'Liberation Serif', 'Times New Roman', serif" font-size="67" letter-spacing="0">&#937;</text>
<text x="1204.8" y="1187" font-family="'Liberation Serif', 'Times New Roman', serif" font-size="67" letter-spacing="4">cm</text>
<text x="1295.2" y="1160.8" font-family="'Liberation Serif', 'Times New Roman', serif" font-size="67" letter-spacing="0">2</text>
<text x="1334" y="1187.6" font-family="'Liberation Serif', 'Times New Roman', serif" font-size="67" letter-spacing="0">)</text>
<text transform="translate(264.9 816.3) rotate(-90)" font-family="'Liberation Serif', 'Times New Roman', serif" font-size="67" letter-spacing="0">Z</text>
<text transform="translate(286.6 753.7) rotate(-90)" font-family="'Liberation Serif', 'Times New Roman', serif" font-size="67" letter-spacing="-1.5">img</text>
<text transform="translate(265 630.6) rotate(-90)" font-family="'Liberation Serif', 'Times New Roman', serif" font-size="67" letter-spacing="0">(</text>
<text transform="translate(265 611.9) rotate(-90)" font-family="'Liberation Serif', 'Times New Roman', serif" font-size="67" letter-spacing="0">&#937;</text>
<text transform="translate(265.1 550.1) rotate(-90)" font-family="'Liberation Serif', 'Times New Roman', serif" font-size="67" letter-spacing="0">cm</text>
<text transform="translate(234.1 471.1) rotate(-90)" font-family="'Liberation Serif', 'Times New Roman', serif" font-size="67" letter-spacing="0">2</text>
<text transform="translate(265 436) rotate(-90)" font-family="'Liberation Serif', 'Times New Roman', serif" font-size="67" letter-spacing="0">)</text>
<rect x="471.5" y="49.5" width="282" height="405.5" fill="none" stroke="#000" stroke-width="3"/>
<line x1="488" y1="100.5" x2="507.5" y2="100.5" stroke="#000000" stroke-width="3"/>
<line x1="524" y1="100.5" x2="543" y2="100.5" stroke="#000000" stroke-width="3"/>
<rect x="510.6" y="95.6" width="9.8" height="9.8" fill="#000000"/>
<text x="552.4" y="108.2" font-family="'Liberation Sans', Arial, sans-serif" font-size="35.5" font-weight="normal" text-anchor="start" letter-spacing="2.2">Blank</text>
<line x1="488" y1="154.4" x2="507.5" y2="154.4" stroke="#FF0000" stroke-width="3"/>
<line x1="524" y1="154.4" x2="543" y2="154.4" stroke="#FF0000" stroke-width="3"/>
<circle cx="515.5" cy="154.4" r="5.2" fill="#FF0000"/>
<text x="552.4" y="162.1" font-family="'Liberation Sans', Arial, sans-serif" font-size="35.5" font-weight="normal" text-anchor="start" letter-spacing="2.3">1x10</text>
<text x="637.7" y="150.5" font-family="'Liberation Sans', Arial, sans-serif" font-size="35.5" font-weight="normal" text-anchor="start" letter-spacing="0">-6</text>
<text x="682.5" y="162.1" font-family="'Liberation Sans', Arial, sans-serif" font-size="35.5" font-weight="normal" text-anchor="start" letter-spacing="0">M</text>
<line x1="488" y1="208.4" x2="507.5" y2="208.4" stroke="#00FF00" stroke-width="3"/>
<line x1="524" y1="208.4" x2="543" y2="208.4" stroke="#00FF00" stroke-width="3"/>
<path d="M515.5 201.6L521.7 211.8L509.3 211.8Z" fill="#00FF00"/>
<text x="552.4" y="216.1" font-family="'Liberation Sans', Arial, sans-serif" font-size="35.5" font-weight="normal" text-anchor="start" letter-spacing="2.3">3x10</text>
<text x="637.7" y="204.5" font-family="'Liberation Sans', Arial, sans-serif" font-size="35.5" font-weight="normal" text-anchor="start" letter-spacing="0">-6</text>
<text x="682.5" y="216.1" font-family="'Liberation Sans', Arial, sans-serif" font-size="35.5" font-weight="normal" text-anchor="start" letter-spacing="0">M</text>
<line x1="488" y1="262.4" x2="507.5" y2="262.4" stroke="#0000FF" stroke-width="3"/>
<line x1="524" y1="262.4" x2="543" y2="262.4" stroke="#0000FF" stroke-width="3"/>
<path d="M509.4 258.8L521.6 258.8L515.5 269.4Z" fill="#0000FF"/>
<text x="552.4" y="270.1" font-family="'Liberation Sans', Arial, sans-serif" font-size="35.5" font-weight="normal" text-anchor="start" letter-spacing="2.3">5x10</text>
<text x="637.7" y="258.4" font-family="'Liberation Sans', Arial, sans-serif" font-size="35.5" font-weight="normal" text-anchor="start" letter-spacing="0">-6</text>
<text x="682.5" y="270.1" font-family="'Liberation Sans', Arial, sans-serif" font-size="35.5" font-weight="normal" text-anchor="start" letter-spacing="0">M</text>
<line x1="488" y1="316.3" x2="507.5" y2="316.3" stroke="#00FFFF" stroke-width="3"/>
<line x1="524" y1="316.3" x2="543" y2="316.3" stroke="#00FFFF" stroke-width="3"/>
<path d="M515.5 310.6L521.2 316.3L515.5 322L509.8 316.3Z" fill="#00FFFF"/>
<text x="552.4" y="324" font-family="'Liberation Sans', Arial, sans-serif" font-size="35.5" font-weight="normal" text-anchor="start" letter-spacing="2.3">7x10</text>
<text x="637.7" y="312.4" font-family="'Liberation Sans', Arial, sans-serif" font-size="35.5" font-weight="normal" text-anchor="start" letter-spacing="0">-6</text>
<text x="682.5" y="324" font-family="'Liberation Sans', Arial, sans-serif" font-size="35.5" font-weight="normal" text-anchor="start" letter-spacing="0">M</text>
<line x1="488" y1="370.2" x2="507.5" y2="370.2" stroke="#FF00FF" stroke-width="3"/>
<line x1="524" y1="370.2" x2="543" y2="370.2" stroke="#FF00FF" stroke-width="3"/>
<path d="M515.5 364.9L510.9 367.6L510.9 372.9L515.5 375.6L520.1 372.9L520.1 367.6Z" fill="#FF00FF"/>
<text x="552.4" y="377.9" font-family="'Liberation Sans', Arial, sans-serif" font-size="35.5" font-weight="normal" text-anchor="start" letter-spacing="2.3">9x10</text>
<text x="637.7" y="366.3" font-family="'Liberation Sans', Arial, sans-serif" font-size="35.5" font-weight="normal" text-anchor="start" letter-spacing="0">-6</text>
<text x="682.5" y="377.9" font-family="'Liberation Sans', Arial, sans-serif" font-size="35.5" font-weight="normal" text-anchor="start" letter-spacing="0">M</text>
<line x1="488" y1="424.2" x2="507.5" y2="424.2" stroke="#FFFF00" stroke-width="3"/>
<line x1="524" y1="424.2" x2="543" y2="424.2" stroke="#FFFF00" stroke-width="3"/>
<circle cx="515.5" cy="424.2" r="5.3" fill="#FFFF00"/><circle cx="513.7" cy="422.5" r="2.3" fill="#FFFFA0"/><circle cx="513.5" cy="422.3" r="1.1" fill="#fff"/>
<text x="552.8" y="431.9" font-family="'Liberation Sans', Arial, sans-serif" font-size="35.5" font-weight="normal" text-anchor="start" letter-spacing="2.3">11x10</text>
<text x="660.3" y="420.3" font-family="'Liberation Sans', Arial, sans-serif" font-size="35.5" font-weight="normal" text-anchor="start" letter-spacing="0">-6</text>
<text x="705.1" y="431.9" font-family="'Liberation Sans', Arial, sans-serif" font-size="35.5" font-weight="normal" text-anchor="start" letter-spacing="0">M</text>
<g id="curves-b-z">
<path d="M739.9 1505 L757.5 1515.3 L775.2 1526 L792.8 1538.1 L810.5 1551.1 L828.1 1566.6 L845.8 1584.8 L863.4 1615 L881 1595.2 L898.7 1607.2 L916.3 1626.3 L934 1646.1 L951.6 1665.1 L969.3 1687 L986.9 1710 L1004.6 1735 L1022.2 1762 L1039.8 1787 L1057.5 1813.5 L1075.1 1838 L1092.8 1864 L1110.4 1889.5 L1128.1 1916.5 L1145.7 1942 L1163.4 1970 L1181 1994 L1198.7 2019 L1216.3 2044 L1233.9 2067 L1251.6 2090 L1269.2 2112 L1286.9 2133 L1304.5 2152 L1322.2 2168 L1339.8 2182 L1357.5 2196 L1375.1 2208.6 L1392.8 2219.6 L1410.4 2227.3 L1428 2234.9 L1445.7 2242.2 L1463.3 2248.1 L1481 2252.4 L1498.6 2256.2 L1516.3 2259.2 L1533.9 2261.9 L1551.6 2264 L1569.2 2265.6 L1586.8 2266.7 L1604.5 2268 L1622.1 2268.9 L1639.8 2269.5 L1657.4 2270.2 L1675.1 2270.6 L1692.7 2271.1 L1710.4 2271.5 L1728 2271.7 L1745.7 2271.9" fill="none" stroke="#000000" stroke-width="3" stroke-linejoin="round"/>
<rect x="735.8" y="1500.9" width="8.2" height="8.2" fill="#000000"/>
<rect x="753.4" y="1511.2" width="8.2" height="8.2" fill="#000000"/>
<rect x="771.1" y="1521.9" width="8.2" height="8.2" fill="#000000"/>
<rect x="788.7" y="1534" width="8.2" height="8.2" fill="#000000"/>
<rect x="806.4" y="1547" width="8.2" height="8.2" fill="#000000"/>
<rect x="824" y="1562.5" width="8.2" height="8.2" fill="#000000"/>
<rect x="841.7" y="1580.7" width="8.2" height="8.2" fill="#000000"/>
<rect x="859.3" y="1610.9" width="8.2" height="8.2" fill="#000000"/>
<rect x="876.9" y="1591.1" width="8.2" height="8.2" fill="#000000"/>
<rect x="894.6" y="1603.1" width="8.2" height="8.2" fill="#000000"/>
<rect x="912.2" y="1622.2" width="8.2" height="8.2" fill="#000000"/>
<rect x="929.9" y="1642" width="8.2" height="8.2" fill="#000000"/>
<rect x="947.5" y="1661" width="8.2" height="8.2" fill="#000000"/>
<rect x="965.2" y="1682.9" width="8.2" height="8.2" fill="#000000"/>
<rect x="982.8" y="1705.9" width="8.2" height="8.2" fill="#000000"/>
<rect x="1000.5" y="1730.9" width="8.2" height="8.2" fill="#000000"/>
<rect x="1018.1" y="1757.9" width="8.2" height="8.2" fill="#000000"/>
<rect x="1035.8" y="1782.9" width="8.2" height="8.2" fill="#000000"/>
<rect x="1053.4" y="1809.4" width="8.2" height="8.2" fill="#000000"/>
<rect x="1071" y="1833.9" width="8.2" height="8.2" fill="#000000"/>
<rect x="1088.7" y="1859.9" width="8.2" height="8.2" fill="#000000"/>
<rect x="1106.3" y="1885.4" width="8.2" height="8.2" fill="#000000"/>
<rect x="1124" y="1912.4" width="8.2" height="8.2" fill="#000000"/>
<rect x="1141.6" y="1937.9" width="8.2" height="8.2" fill="#000000"/>
<rect x="1159.3" y="1965.9" width="8.2" height="8.2" fill="#000000"/>
<rect x="1176.9" y="1989.9" width="8.2" height="8.2" fill="#000000"/>
<rect x="1194.6" y="2014.9" width="8.2" height="8.2" fill="#000000"/>
<rect x="1212.2" y="2039.9" width="8.2" height="8.2" fill="#000000"/>
<rect x="1229.8" y="2062.9" width="8.2" height="8.2" fill="#000000"/>
<rect x="1247.5" y="2085.9" width="8.2" height="8.2" fill="#000000"/>
<rect x="1265.1" y="2107.9" width="8.2" height="8.2" fill="#000000"/>
<rect x="1282.8" y="2128.9" width="8.2" height="8.2" fill="#000000"/>
<rect x="1300.4" y="2147.9" width="8.2" height="8.2" fill="#000000"/>
<rect x="1318.1" y="2163.9" width="8.2" height="8.2" fill="#000000"/>
<rect x="1335.7" y="2177.9" width="8.2" height="8.2" fill="#000000"/>
<rect x="1353.4" y="2191.9" width="8.2" height="8.2" fill="#000000"/>
<rect x="1371" y="2204.5" width="8.2" height="8.2" fill="#000000"/>
<rect x="1388.7" y="2215.5" width="8.2" height="8.2" fill="#000000"/>
<rect x="1406.3" y="2223.2" width="8.2" height="8.2" fill="#000000"/>
<rect x="1423.9" y="2230.8" width="8.2" height="8.2" fill="#000000"/>
<rect x="1441.6" y="2238.1" width="8.2" height="8.2" fill="#000000"/>
<rect x="1459.2" y="2244" width="8.2" height="8.2" fill="#000000"/>
<rect x="1476.9" y="2248.3" width="8.2" height="8.2" fill="#000000"/>
<rect x="1494.5" y="2252.1" width="8.2" height="8.2" fill="#000000"/>
<rect x="1512.2" y="2255.1" width="8.2" height="8.2" fill="#000000"/>
<rect x="1529.8" y="2257.8" width="8.2" height="8.2" fill="#000000"/>
<rect x="1547.5" y="2259.9" width="8.2" height="8.2" fill="#000000"/>
<rect x="1565.1" y="2261.5" width="8.2" height="8.2" fill="#000000"/>
<rect x="1582.7" y="2262.6" width="8.2" height="8.2" fill="#000000"/>
<rect x="1600.4" y="2263.9" width="8.2" height="8.2" fill="#000000"/>
<rect x="1618" y="2264.8" width="8.2" height="8.2" fill="#000000"/>
<rect x="1635.7" y="2265.4" width="8.2" height="8.2" fill="#000000"/>
<rect x="1653.3" y="2266.1" width="8.2" height="8.2" fill="#000000"/>
<rect x="1671" y="2266.5" width="8.2" height="8.2" fill="#000000"/>
<rect x="1688.6" y="2267" width="8.2" height="8.2" fill="#000000"/>
<rect x="1706.3" y="2267.4" width="8.2" height="8.2" fill="#000000"/>
<rect x="1723.9" y="2267.6" width="8.2" height="8.2" fill="#000000"/>
<rect x="1741.6" y="2267.8" width="8.2" height="8.2" fill="#000000"/>
<path d="M739.9 1483.7 L757.5 1492.3 L775.2 1501.8 L792.8 1513.6 L810.5 1526.6 L828.1 1543.3 L845.8 1562.7 L863.4 1595.2 L881 1573.9 L898.7 1593.4 L916.3 1615 L934 1637.5 L951.6 1660 L969.3 1685 L986.9 1711 L1004.6 1739 L1022.2 1766.5 L1039.8 1794.3 L1057.5 1821 L1075.1 1849.8 L1092.8 1879.3 L1110.4 1906.2 L1128.1 1934 L1145.7 1962 L1163.4 1989.5 L1181 2017.2 L1198.7 2043.4 L1216.3 2070.2 L1233.9 2095.2 L1251.6 2119.7 L1269.2 2142.4 L1286.9 2164.3 L1304.5 2183.3 L1322.2 2200.6 L1339.8 2215 L1357.5 2227.6 L1375.1 2238.6 L1392.8 2247.8 L1410.4 2255.1 L1428 2261.9 L1445.7 2267.1 L1463.3 2271.5 L1481 2274.8 L1498.6 2277.2 L1516.3 2279.8 L1533.9 2282 L1551.6 2283.8 L1569.2 2285.3 L1586.8 2286.4 L1604.5 2287.5 L1622.1 2288.1 L1639.8 2288.6 L1657.4 2289 L1675.1 2289.4 L1692.7 2289.7 L1710.4 2289.9 L1728 2290.1 L1745.7 2290.3" fill="none" stroke="#FF0000" stroke-width="3" stroke-linejoin="round"/>
<circle cx="739.9" cy="1483.7" r="5" fill="#FF0000"/>
<circle cx="757.5" cy="1492.3" r="5" fill="#FF0000"/>
<circle cx="775.2" cy="1501.8" r="5" fill="#FF0000"/>
<circle cx="792.8" cy="1513.6" r="5" fill="#FF0000"/>
<circle cx="810.5" cy="1526.6" r="5" fill="#FF0000"/>
<circle cx="828.1" cy="1543.3" r="5" fill="#FF0000"/>
<circle cx="845.8" cy="1562.7" r="5" fill="#FF0000"/>
<circle cx="863.4" cy="1595.2" r="5" fill="#FF0000"/>
<circle cx="881" cy="1573.9" r="5" fill="#FF0000"/>
<circle cx="898.7" cy="1593.4" r="5" fill="#FF0000"/>
<circle cx="916.3" cy="1615" r="5" fill="#FF0000"/>
<circle cx="934" cy="1637.5" r="5" fill="#FF0000"/>
<circle cx="951.6" cy="1660" r="5" fill="#FF0000"/>
<circle cx="969.3" cy="1685" r="5" fill="#FF0000"/>
<circle cx="986.9" cy="1711" r="5" fill="#FF0000"/>
<circle cx="1004.6" cy="1739" r="5" fill="#FF0000"/>
<circle cx="1022.2" cy="1766.5" r="5" fill="#FF0000"/>
<circle cx="1039.8" cy="1794.3" r="5" fill="#FF0000"/>
<circle cx="1057.5" cy="1821" r="5" fill="#FF0000"/>
<circle cx="1075.1" cy="1849.8" r="5" fill="#FF0000"/>
<circle cx="1092.8" cy="1879.3" r="5" fill="#FF0000"/>
<circle cx="1110.4" cy="1906.2" r="5" fill="#FF0000"/>
<circle cx="1128.1" cy="1934" r="5" fill="#FF0000"/>
<circle cx="1145.7" cy="1962" r="5" fill="#FF0000"/>
<circle cx="1163.4" cy="1989.5" r="5" fill="#FF0000"/>
<circle cx="1181" cy="2017.2" r="5" fill="#FF0000"/>
<circle cx="1198.7" cy="2043.4" r="5" fill="#FF0000"/>
<circle cx="1216.3" cy="2070.2" r="5" fill="#FF0000"/>
<circle cx="1233.9" cy="2095.2" r="5" fill="#FF0000"/>
<circle cx="1251.6" cy="2119.7" r="5" fill="#FF0000"/>
<circle cx="1269.2" cy="2142.4" r="5" fill="#FF0000"/>
<circle cx="1286.9" cy="2164.3" r="5" fill="#FF0000"/>
<circle cx="1304.5" cy="2183.3" r="5" fill="#FF0000"/>
<circle cx="1322.2" cy="2200.6" r="5" fill="#FF0000"/>
<circle cx="1339.8" cy="2215" r="5" fill="#FF0000"/>
<circle cx="1357.5" cy="2227.6" r="5" fill="#FF0000"/>
<circle cx="1375.1" cy="2238.6" r="5" fill="#FF0000"/>
<circle cx="1392.8" cy="2247.8" r="5" fill="#FF0000"/>
<circle cx="1410.4" cy="2255.1" r="5" fill="#FF0000"/>
<circle cx="1428" cy="2261.9" r="5" fill="#FF0000"/>
<circle cx="1445.7" cy="2267.1" r="5" fill="#FF0000"/>
<circle cx="1463.3" cy="2271.5" r="5" fill="#FF0000"/>
<circle cx="1481" cy="2274.8" r="5" fill="#FF0000"/>
<circle cx="1498.6" cy="2277.2" r="5" fill="#FF0000"/>
<circle cx="1516.3" cy="2279.8" r="5" fill="#FF0000"/>
<circle cx="1533.9" cy="2282" r="5" fill="#FF0000"/>
<circle cx="1551.6" cy="2283.8" r="5" fill="#FF0000"/>
<circle cx="1569.2" cy="2285.3" r="5" fill="#FF0000"/>
<circle cx="1586.8" cy="2286.4" r="5" fill="#FF0000"/>
<circle cx="1604.5" cy="2287.5" r="5" fill="#FF0000"/>
<circle cx="1622.1" cy="2288.1" r="5" fill="#FF0000"/>
<circle cx="1639.8" cy="2288.6" r="5" fill="#FF0000"/>
<circle cx="1657.4" cy="2289" r="5" fill="#FF0000"/>
<circle cx="1675.1" cy="2289.4" r="5" fill="#FF0000"/>
<circle cx="1692.7" cy="2289.7" r="5" fill="#FF0000"/>
<circle cx="1710.4" cy="2289.9" r="5" fill="#FF0000"/>
<circle cx="1728" cy="2290.1" r="5" fill="#FF0000"/>
<circle cx="1745.7" cy="2290.3" r="5" fill="#FF0000"/>
<path d="M739.9 1553.7 L757.5 1562.9 L775.2 1571.9 L792.8 1582.3 L810.5 1592.3 L828.1 1603.9 L845.8 1618.5 L863.4 1647.1 L881 1622 L898.7 1635.5 L916.3 1649.6 L934 1664.3 L951.6 1680.8 L969.3 1698 L986.9 1716.2 L1004.6 1737.2 L1022.2 1759.2 L1039.8 1782.2 L1057.5 1805.2 L1075.1 1829.7 L1092.8 1854.7 L1110.4 1879.2 L1128.1 1904.2 L1145.7 1929.2 L1163.4 1956.2 L1181 1979.6 L1198.7 2007.2 L1216.3 2032.3 L1233.9 2056.4 L1251.6 2081.1 L1269.2 2104.7 L1286.9 2125.2 L1304.5 2146.8 L1322.2 2168.6 L1339.8 2187.1 L1357.5 2204.4 L1375.1 2218.2 L1392.8 2230.9 L1410.4 2240.7 L1428 2250.5 L1445.7 2258.2 L1463.3 2264.1 L1481 2269.2 L1498.6 2272.9 L1516.3 2276.4 L1533.9 2279 L1551.6 2281.2 L1569.2 2283 L1586.8 2284.5 L1604.5 2285.6 L1622.1 2286.7 L1639.8 2287.3 L1657.4 2287.8 L1675.1 2288.4 L1692.7 2288.9 L1710.4 2289.3 L1728 2289.5 L1745.7 2290" fill="none" stroke="#00FF00" stroke-width="3" stroke-linejoin="round"/>
<path d="M739.9 1547.1L745.9 1557L733.9 1557Z" fill="#00FF00"/>
<path d="M757.5 1556.3L763.5 1566.2L751.5 1566.2Z" fill="#00FF00"/>
<path d="M775.2 1565.3L781.2 1575.2L769.2 1575.2Z" fill="#00FF00"/>
<path d="M792.8 1575.7L798.8 1585.6L786.8 1585.6Z" fill="#00FF00"/>
<path d="M810.5 1585.7L816.5 1595.6L804.5 1595.6Z" fill="#00FF00"/>
<path d="M828.1 1597.3L834.1 1607.2L822.1 1607.2Z" fill="#00FF00"/>
<path d="M845.8 1611.9L851.8 1621.8L839.7 1621.8Z" fill="#00FF00"/>
<path d="M863.4 1640.5L869.4 1650.4L857.4 1650.4Z" fill="#00FF00"/>
<path d="M881 1615.4L887.1 1625.3L875 1625.3Z" fill="#00FF00"/>
<path d="M898.7 1628.9L904.7 1638.8L892.7 1638.8Z" fill="#00FF00"/>
<path d="M916.3 1643L922.3 1652.9L910.3 1652.9Z" fill="#00FF00"/>
<path d="M934 1657.7L940 1667.6L928 1667.6Z" fill="#00FF00"/>
<path d="M951.6 1674.2L957.6 1684.1L945.6 1684.1Z" fill="#00FF00"/>
<path d="M969.3 1691.4L975.3 1701.3L963.3 1701.3Z" fill="#00FF00"/>
<path d="M986.9 1709.6L992.9 1719.5L980.9 1719.5Z" fill="#00FF00"/>
<path d="M1004.6 1730.6L1010.6 1740.5L998.5 1740.5Z" fill="#00FF00"/>
<path d="M1022.2 1752.6L1028.2 1762.5L1016.2 1762.5Z" fill="#00FF00"/>
<path d="M1039.8 1775.6L1045.9 1785.5L1033.8 1785.5Z" fill="#00FF00"/>
<path d="M1057.5 1798.6L1063.5 1808.5L1051.5 1808.5Z" fill="#00FF00"/>
<path d="M1075.1 1823.1L1081.2 1833L1069.1 1833Z" fill="#00FF00"/>
<path d="M1092.8 1848.1L1098.8 1858L1086.8 1858Z" fill="#00FF00"/>
<path d="M1110.4 1872.6L1116.4 1882.5L1104.4 1882.5Z" fill="#00FF00"/>
<path d="M1128.1 1897.6L1134.1 1907.5L1122.1 1907.5Z" fill="#00FF00"/>
<path d="M1145.7 1922.6L1151.7 1932.5L1139.7 1932.5Z" fill="#00FF00"/>
<path d="M1163.4 1949.6L1169.4 1959.5L1157.4 1959.5Z" fill="#00FF00"/>
<path d="M1181 1973L1187 1982.9L1175 1982.9Z" fill="#00FF00"/>
<path d="M1198.7 2000.6L1204.7 2010.5L1192.6 2010.5Z" fill="#00FF00"/>
<path d="M1216.3 2025.7L1222.3 2035.6L1210.3 2035.6Z" fill="#00FF00"/>
<path d="M1233.9 2049.8L1240 2059.7L1227.9 2059.7Z" fill="#00FF00"/>
<path d="M1251.6 2074.5L1257.6 2084.4L1245.6 2084.4Z" fill="#00FF00"/>
<path d="M1269.2 2098.1L1275.2 2108L1263.2 2108Z" fill="#00FF00"/>
<path d="M1286.9 2118.6L1292.9 2128.5L1280.9 2128.5Z" fill="#00FF00"/>
<path d="M1304.5 2140.2L1310.5 2150.1L1298.5 2150.1Z" fill="#00FF00"/>
<path d="M1322.2 2162L1328.2 2171.9L1316.2 2171.9Z" fill="#00FF00"/>
<path d="M1339.8 2180.5L1345.8 2190.4L1333.8 2190.4Z" fill="#00FF00"/>
<path d="M1357.5 2197.8L1363.5 2207.7L1351.4 2207.7Z" fill="#00FF00"/>
<path d="M1375.1 2211.6L1381.1 2221.5L1369.1 2221.5Z" fill="#00FF00"/>
<path d="M1392.8 2224.3L1398.8 2234.2L1386.7 2234.2Z" fill="#00FF00"/>
<path d="M1410.4 2234.1L1416.4 2244L1404.4 2244Z" fill="#00FF00"/>
<path d="M1428 2243.9L1434.1 2253.8L1422 2253.8Z" fill="#00FF00"/>
<path d="M1445.7 2251.6L1451.7 2261.5L1439.7 2261.5Z" fill="#00FF00"/>
<path d="M1463.3 2257.5L1469.3 2267.4L1457.3 2267.4Z" fill="#00FF00"/>
<path d="M1481 2262.6L1487 2272.5L1475 2272.5Z" fill="#00FF00"/>
<path d="M1498.6 2266.3L1504.6 2276.2L1492.6 2276.2Z" fill="#00FF00"/>
<path d="M1516.3 2269.8L1522.3 2279.7L1510.3 2279.7Z" fill="#00FF00"/>
<path d="M1533.9 2272.4L1539.9 2282.3L1527.9 2282.3Z" fill="#00FF00"/>
<path d="M1551.6 2274.6L1557.6 2284.5L1545.5 2284.5Z" fill="#00FF00"/>
<path d="M1569.2 2276.4L1575.2 2286.3L1563.2 2286.3Z" fill="#00FF00"/>
<path d="M1586.8 2277.9L1592.9 2287.8L1580.8 2287.8Z" fill="#00FF00"/>
<path d="M1604.5 2279L1610.5 2288.9L1598.5 2288.9Z" fill="#00FF00"/>
<path d="M1622.1 2280.1L1628.1 2290L1616.1 2290Z" fill="#00FF00"/>
<path d="M1639.8 2280.7L1645.8 2290.6L1633.8 2290.6Z" fill="#00FF00"/>
<path d="M1657.4 2281.2L1663.4 2291.1L1651.4 2291.1Z" fill="#00FF00"/>
<path d="M1675.1 2281.8L1681.1 2291.7L1669.1 2291.7Z" fill="#00FF00"/>
<path d="M1692.7 2282.3L1698.7 2292.2L1686.7 2292.2Z" fill="#00FF00"/>
<path d="M1710.4 2282.7L1716.4 2292.6L1704.3 2292.6Z" fill="#00FF00"/>
<path d="M1728 2282.9L1734 2292.8L1722 2292.8Z" fill="#00FF00"/>
<path d="M1745.7 2283.4L1751.7 2293.3L1739.6 2293.3Z" fill="#00FF00"/>
<path d="M739.9 1501 L757.5 1513.1 L775.2 1524 L792.8 1535 L810.5 1548.2 L828.1 1564 L845.8 1581.7 L863.4 1612.4 L881 1588.2 L898.7 1603 L916.3 1622.8 L934 1641.8 L951.6 1663.4 L969.3 1685 L986.9 1707.5 L1004.6 1732.5 L1022.2 1760.5 L1039.8 1785 L1057.5 1811.6 L1075.1 1835.4 L1092.8 1862 L1110.4 1887.2 L1128.1 1914.6 L1145.7 1939.8 L1163.4 1968.3 L1181 1991.6 L1198.7 2016.1 L1216.3 2041.3 L1233.9 2064.2 L1251.6 2087.3 L1269.2 2109.5 L1286.9 2130 L1304.5 2148 L1322.2 2165 L1339.8 2180 L1357.5 2193 L1375.1 2204 L1392.8 2213 L1410.4 2220 L1428 2228.6 L1445.7 2234 L1463.3 2239.1 L1481 2243.2 L1498.6 2246.5 L1516.3 2248.9 L1533.9 2251.1 L1551.6 2253.1 L1569.2 2254.4 L1586.8 2255.5 L1604.5 2256.4 L1622.1 2257.2 L1639.8 2257.9 L1657.4 2258.3 L1675.1 2258.8 L1692.7 2259.2 L1710.4 2259.6 L1728 2259.9 L1745.7 2260.1" fill="none" stroke="#0000FF" stroke-width="3" stroke-linejoin="round"/>
<path d="M734 1497.6L745.8 1497.6L739.9 1507.9Z" fill="#0000FF"/>
<path d="M751.6 1509.7L763.4 1509.7L757.5 1520Z" fill="#0000FF"/>
<path d="M769.3 1520.6L781.1 1520.6L775.2 1530.9Z" fill="#0000FF"/>
<path d="M786.9 1531.6L798.7 1531.6L792.8 1541.9Z" fill="#0000FF"/>
<path d="M804.5 1544.8L816.4 1544.8L810.5 1555.1Z" fill="#0000FF"/>
<path d="M822.2 1560.6L834 1560.6L828.1 1570.9Z" fill="#0000FF"/>
<path d="M839.8 1578.3L851.7 1578.3L845.8 1588.6Z" fill="#0000FF"/>
<path d="M857.5 1609L869.3 1609L863.4 1619.3Z" fill="#0000FF"/>
<path d="M875.1 1584.8L887 1584.8L881 1595.1Z" fill="#0000FF"/>
<path d="M892.8 1599.6L904.6 1599.6L898.7 1609.9Z" fill="#0000FF"/>
<path d="M910.4 1619.4L922.3 1619.4L916.3 1629.7Z" fill="#0000FF"/>
<path d="M928.1 1638.4L939.9 1638.4L934 1648.7Z" fill="#0000FF"/>
<path d="M945.7 1660L957.5 1660L951.6 1670.3Z" fill="#0000FF"/>
<path d="M963.4 1681.6L975.2 1681.6L969.3 1691.9Z" fill="#0000FF"/>
<path d="M981 1704.1L992.8 1704.1L986.9 1714.4Z" fill="#0000FF"/>
<path d="M998.6 1729.1L1010.5 1729.1L1004.6 1739.4Z" fill="#0000FF"/>
<path d="M1016.3 1757.1L1028.1 1757.1L1022.2 1767.4Z" fill="#0000FF"/>
<path d="M1033.9 1781.6L1045.8 1781.6L1039.8 1791.9Z" fill="#0000FF"/>
<path d="M1051.6 1808.2L1063.4 1808.2L1057.5 1818.5Z" fill="#0000FF"/>
<path d="M1069.2 1832L1081.1 1832L1075.1 1842.3Z" fill="#0000FF"/>
<path d="M1086.9 1858.6L1098.7 1858.6L1092.8 1868.9Z" fill="#0000FF"/>
<path d="M1104.5 1883.8L1116.3 1883.8L1110.4 1894.1Z" fill="#0000FF"/>
<path d="M1122.2 1911.2L1134 1911.2L1128.1 1921.5Z" fill="#0000FF"/>
<path d="M1139.8 1936.4L1151.6 1936.4L1145.7 1946.7Z" fill="#0000FF"/>
<path d="M1157.4 1964.9L1169.3 1964.9L1163.4 1975.2Z" fill="#0000FF"/>
<path d="M1175.1 1988.2L1186.9 1988.2L1181 1998.5Z" fill="#0000FF"/>
<path d="M1192.7 2012.7L1204.6 2012.7L1198.7 2023Z" fill="#0000FF"/>
<path d="M1210.4 2037.9L1222.2 2037.9L1216.3 2048.2Z" fill="#0000FF"/>
<path d="M1228 2060.8L1239.9 2060.8L1233.9 2071.1Z" fill="#0000FF"/>
<path d="M1245.7 2083.9L1257.5 2083.9L1251.6 2094.2Z" fill="#0000FF"/>
<path d="M1263.3 2106.1L1275.2 2106.1L1269.2 2116.4Z" fill="#0000FF"/>
<path d="M1281 2126.6L1292.8 2126.6L1286.9 2136.9Z" fill="#0000FF"/>
<path d="M1298.6 2144.6L1310.4 2144.6L1304.5 2154.9Z" fill="#0000FF"/>
<path d="M1316.3 2161.6L1328.1 2161.6L1322.2 2171.9Z" fill="#0000FF"/>
<path d="M1333.9 2176.6L1345.7 2176.6L1339.8 2186.9Z" fill="#0000FF"/>
<path d="M1351.5 2189.6L1363.4 2189.6L1357.5 2199.9Z" fill="#0000FF"/>
<path d="M1369.2 2200.6L1381 2200.6L1375.1 2210.9Z" fill="#0000FF"/>
<path d="M1386.8 2209.6L1398.7 2209.6L1392.8 2219.9Z" fill="#0000FF"/>
<path d="M1404.5 2216.6L1416.3 2216.6L1410.4 2226.9Z" fill="#0000FF"/>
<path d="M1422.1 2225.2L1434 2225.2L1428 2235.5Z" fill="#0000FF"/>
<path d="M1439.8 2230.6L1451.6 2230.6L1445.7 2240.9Z" fill="#0000FF"/>
<path d="M1457.4 2235.7L1469.2 2235.7L1463.3 2246Z" fill="#0000FF"/>
<path d="M1475.1 2239.8L1486.9 2239.8L1481 2250.1Z" fill="#0000FF"/>
<path d="M1492.7 2243.1L1504.5 2243.1L1498.6 2253.4Z" fill="#0000FF"/>
<path d="M1510.3 2245.5L1522.2 2245.5L1516.3 2255.8Z" fill="#0000FF"/>
<path d="M1528 2247.7L1539.8 2247.7L1533.9 2258Z" fill="#0000FF"/>
<path d="M1545.6 2249.7L1557.5 2249.7L1551.6 2260Z" fill="#0000FF"/>
<path d="M1563.3 2251L1575.1 2251L1569.2 2261.3Z" fill="#0000FF"/>
<path d="M1580.9 2252.1L1592.8 2252.1L1586.8 2262.4Z" fill="#0000FF"/>
<path d="M1598.6 2253L1610.4 2253L1604.5 2263.3Z" fill="#0000FF"/>
<path d="M1616.2 2253.8L1628.1 2253.8L1622.1 2264.1Z" fill="#0000FF"/>
<path d="M1633.9 2254.5L1645.7 2254.5L1639.8 2264.8Z" fill="#0000FF"/>
<path d="M1651.5 2254.9L1663.3 2254.9L1657.4 2265.2Z" fill="#0000FF"/>
<path d="M1669.2 2255.4L1681 2255.4L1675.1 2265.7Z" fill="#0000FF"/>
<path d="M1686.8 2255.8L1698.6 2255.8L1692.7 2266.1Z" fill="#0000FF"/>
<path d="M1704.4 2256.2L1716.3 2256.2L1710.4 2266.5Z" fill="#0000FF"/>
<path d="M1722.1 2256.5L1733.9 2256.5L1728 2266.8Z" fill="#0000FF"/>
<path d="M1739.7 2256.7L1751.6 2256.7L1745.7 2267Z" fill="#0000FF"/>
<path d="M739.9 1563.2 L757.5 1571.8 L775.2 1581.3 L792.8 1590.8 L810.5 1600.3 L828.1 1611.6 L845.8 1625.4 L863.4 1651.8 L881 1631.4 L898.7 1642.7 L916.3 1655.6 L934 1669.5 L951.6 1684.1 L969.3 1700.6 L986.9 1717 L1004.6 1735 L1022.2 1754 L1039.8 1776.3 L1057.5 1799.4 L1075.1 1821.7 L1092.8 1846.9 L1110.4 1870.6 L1128.1 1895.9 L1145.7 1921.8 L1163.4 1946.3 L1181 1971 L1198.7 1996 L1216.3 2020 L1233.9 2045 L1251.6 2070 L1269.2 2095.7 L1286.9 2119.9 L1304.5 2140.6 L1322.2 2157.9 L1339.8 2175.2 L1357.5 2189.6 L1375.1 2202.9 L1392.8 2213.2 L1410.4 2221.8 L1428 2230.6 L1445.7 2236 L1463.3 2241.1 L1481 2245.2 L1498.6 2248.5 L1516.3 2250.9 L1533.9 2253.1 L1551.6 2255.1 L1569.2 2256.4 L1586.8 2257.5 L1604.5 2258.4 L1622.1 2259.2 L1639.8 2259.9 L1657.4 2260.3 L1675.1 2260.8 L1692.7 2261.2 L1710.4 2261.6 L1728 2261.9 L1745.7 2262.1" fill="none" stroke="#00FFFF" stroke-width="3" stroke-linejoin="round"/>
<circle cx="739.9" cy="1563.2" r="5" fill="#00FFFF"/>
<circle cx="757.5" cy="1571.8" r="5" fill="#00FFFF"/>
<circle cx="775.2" cy="1581.3" r="5" fill="#00FFFF"/>
<circle cx="792.8" cy="1590.8" r="5" fill="#00FFFF"/>
<circle cx="810.5" cy="1600.3" r="5" fill="#00FFFF"/>
<circle cx="828.1" cy="1611.6" r="5" fill="#00FFFF"/>
<circle cx="845.8" cy="1625.4" r="5" fill="#00FFFF"/>
<circle cx="863.4" cy="1651.8" r="5" fill="#00FFFF"/>
<circle cx="881" cy="1631.4" r="5" fill="#00FFFF"/>
<circle cx="898.7" cy="1642.7" r="5" fill="#00FFFF"/>
<circle cx="916.3" cy="1655.6" r="5" fill="#00FFFF"/>
<circle cx="934" cy="1669.5" r="5" fill="#00FFFF"/>
<circle cx="951.6" cy="1684.1" r="5" fill="#00FFFF"/>
<circle cx="969.3" cy="1700.6" r="5" fill="#00FFFF"/>
<circle cx="986.9" cy="1717" r="5" fill="#00FFFF"/>
<circle cx="1004.6" cy="1735" r="5" fill="#00FFFF"/>
<circle cx="1022.2" cy="1754" r="5" fill="#00FFFF"/>
<circle cx="1039.8" cy="1776.3" r="5" fill="#00FFFF"/>
<circle cx="1057.5" cy="1799.4" r="5" fill="#00FFFF"/>
<circle cx="1075.1" cy="1821.7" r="5" fill="#00FFFF"/>
<circle cx="1092.8" cy="1846.9" r="5" fill="#00FFFF"/>
<circle cx="1110.4" cy="1870.6" r="5" fill="#00FFFF"/>
<circle cx="1128.1" cy="1895.9" r="5" fill="#00FFFF"/>
<circle cx="1145.7" cy="1921.8" r="5" fill="#00FFFF"/>
<circle cx="1163.4" cy="1946.3" r="5" fill="#00FFFF"/>
<circle cx="1181" cy="1971" r="5" fill="#00FFFF"/>
<circle cx="1198.7" cy="1996" r="5" fill="#00FFFF"/>
<circle cx="1216.3" cy="2020" r="5" fill="#00FFFF"/>
<circle cx="1233.9" cy="2045" r="5" fill="#00FFFF"/>
<circle cx="1251.6" cy="2070" r="5" fill="#00FFFF"/>
<circle cx="1269.2" cy="2095.7" r="5" fill="#00FFFF"/>
<circle cx="1286.9" cy="2119.9" r="5" fill="#00FFFF"/>
<circle cx="1304.5" cy="2140.6" r="5" fill="#00FFFF"/>
<circle cx="1322.2" cy="2157.9" r="5" fill="#00FFFF"/>
<circle cx="1339.8" cy="2175.2" r="5" fill="#00FFFF"/>
<circle cx="1357.5" cy="2189.6" r="5" fill="#00FFFF"/>
<circle cx="1375.1" cy="2202.9" r="5" fill="#00FFFF"/>
<circle cx="1392.8" cy="2213.2" r="5" fill="#00FFFF"/>
<circle cx="1410.4" cy="2221.8" r="5" fill="#00FFFF"/>
<circle cx="1428" cy="2230.6" r="5" fill="#00FFFF"/>
<circle cx="1445.7" cy="2236" r="5" fill="#00FFFF"/>
<circle cx="1463.3" cy="2241.1" r="5" fill="#00FFFF"/>
<circle cx="1481" cy="2245.2" r="5" fill="#00FFFF"/>
<circle cx="1498.6" cy="2248.5" r="5" fill="#00FFFF"/>
<circle cx="1516.3" cy="2250.9" r="5" fill="#00FFFF"/>
<circle cx="1533.9" cy="2253.1" r="5" fill="#00FFFF"/>
<circle cx="1551.6" cy="2255.1" r="5" fill="#00FFFF"/>
<circle cx="1569.2" cy="2256.4" r="5" fill="#00FFFF"/>
<circle cx="1586.8" cy="2257.5" r="5" fill="#00FFFF"/>
<circle cx="1604.5" cy="2258.4" r="5" fill="#00FFFF"/>
<circle cx="1622.1" cy="2259.2" r="5" fill="#00FFFF"/>
<circle cx="1639.8" cy="2259.9" r="5" fill="#00FFFF"/>
<circle cx="1657.4" cy="2260.3" r="5" fill="#00FFFF"/>
<circle cx="1675.1" cy="2260.8" r="5" fill="#00FFFF"/>
<circle cx="1692.7" cy="2261.2" r="5" fill="#00FFFF"/>
<circle cx="1710.4" cy="2261.6" r="5" fill="#00FFFF"/>
<circle cx="1728" cy="2261.9" r="5" fill="#00FFFF"/>
<circle cx="1745.7" cy="2262.1" r="5" fill="#00FFFF"/>
<path d="M739.9 1554.5 L757.5 1563.7 L775.2 1572.7 L792.8 1583.1 L810.5 1593.1 L828.1 1604.7 L845.8 1619.3 L863.4 1647.9 L881 1622.8 L898.7 1636.3 L916.3 1650.4 L934 1665.1 L951.6 1681.6 L969.3 1698.8 L986.9 1717 L1004.6 1738 L1022.2 1760 L1039.8 1783 L1057.5 1806 L1075.1 1830.5 L1092.8 1855.5 L1110.4 1880 L1128.1 1905 L1145.7 1930 L1163.4 1957 L1181 1980.4 L1198.7 2008 L1216.3 2033.1 L1233.9 2057.2 L1251.6 2081.9 L1269.2 2105.5 L1286.9 2126 L1304.5 2147.6 L1322.2 2169.4 L1339.8 2187.9 L1357.5 2205.2 L1375.1 2219 L1392.8 2231.7 L1410.4 2241.5 L1428 2251.3 L1445.7 2259 L1463.3 2264.9 L1481 2270 L1498.6 2273.7 L1516.3 2277.2 L1533.9 2279.8 L1551.6 2282 L1569.2 2283.8 L1586.8 2285.3 L1604.5 2286.4 L1622.1 2287.5 L1639.8 2288.1 L1657.4 2288.6 L1675.1 2289.2 L1692.7 2289.7 L1710.4 2290.1 L1728 2290.3 L1745.7 2290.8" fill="none" stroke="#FF00FF" stroke-width="3" stroke-linejoin="round"/>
<path d="M739.9 1548.7L738.2 1552.8L733.8 1553.1L737.1 1556L736.1 1560.3L739.9 1558L743.6 1560.3L742.6 1556L746 1553.1L741.6 1552.8Z" fill="#FF00FF"/>
<path d="M757.5 1557.9L755.8 1562L751.4 1562.3L754.8 1565.2L753.8 1569.5L757.5 1567.2L761.3 1569.5L760.3 1565.2L763.6 1562.3L759.2 1562Z" fill="#FF00FF"/>
<path d="M775.2 1566.9L773.5 1571L769.1 1571.3L772.4 1574.2L771.4 1578.5L775.2 1576.2L778.9 1578.5L777.9 1574.2L781.3 1571.3L776.9 1571Z" fill="#FF00FF"/>
<path d="M792.8 1577.3L791.1 1581.4L786.7 1581.7L790.1 1584.6L789.1 1588.9L792.8 1586.6L796.6 1588.9L795.6 1584.6L798.9 1581.7L794.5 1581.4Z" fill="#FF00FF"/>
<path d="M810.5 1587.3L808.8 1591.4L804.4 1591.7L807.7 1594.6L806.7 1598.9L810.5 1596.6L814.2 1598.9L813.2 1594.6L816.6 1591.7L812.2 1591.4Z" fill="#FF00FF"/>
<path d="M828.1 1598.9L826.4 1603L822 1603.3L825.4 1606.2L824.3 1610.5L828.1 1608.2L831.9 1610.5L830.9 1606.2L834.2 1603.3L829.8 1603Z" fill="#FF00FF"/>
<path d="M845.8 1613.5L844.1 1617.6L839.7 1617.9L843 1620.8L842 1625.1L845.8 1622.8L849.5 1625.1L848.5 1620.8L851.8 1617.9L847.5 1617.6Z" fill="#FF00FF"/>
<path d="M863.4 1642.1L861.7 1646.2L857.3 1646.5L860.6 1649.4L859.6 1653.7L863.4 1651.4L867.2 1653.7L866.2 1649.4L869.5 1646.5L865.1 1646.2Z" fill="#FF00FF"/>
<path d="M881 1617L879.3 1621.1L875 1621.4L878.3 1624.3L877.3 1628.6L881 1626.3L884.8 1628.6L883.8 1624.3L887.1 1621.4L882.7 1621.1Z" fill="#FF00FF"/>
<path d="M898.7 1630.5L897 1634.6L892.6 1634.9L895.9 1637.8L894.9 1642.1L898.7 1639.8L902.5 1642.1L901.4 1637.8L904.8 1634.9L900.4 1634.6Z" fill="#FF00FF"/>
<path d="M916.3 1644.6L914.6 1648.7L910.2 1649L913.6 1651.9L912.6 1656.2L916.3 1653.9L920.1 1656.2L919.1 1651.9L922.4 1649L918 1648.7Z" fill="#FF00FF"/>
<path d="M934 1659.3L932.3 1663.4L927.9 1663.7L931.2 1666.6L930.2 1670.9L934 1668.6L937.7 1670.9L936.7 1666.6L940.1 1663.7L935.7 1663.4Z" fill="#FF00FF"/>
<path d="M951.6 1675.8L949.9 1679.9L945.5 1680.2L948.9 1683.1L947.9 1687.4L951.6 1685.1L955.4 1687.4L954.4 1683.1L957.7 1680.2L953.3 1679.9Z" fill="#FF00FF"/>
<path d="M969.3 1693L967.6 1697.1L963.2 1697.4L966.5 1700.3L965.5 1704.6L969.3 1702.3L973 1704.6L972 1700.3L975.4 1697.4L971 1697.1Z" fill="#FF00FF"/>
<path d="M986.9 1711.2L985.2 1715.3L980.8 1715.6L984.2 1718.5L983.2 1722.8L986.9 1720.5L990.7 1722.8L989.7 1718.5L993 1715.6L988.6 1715.3Z" fill="#FF00FF"/>
<path d="M1004.6 1732.2L1002.9 1736.3L998.5 1736.6L1001.8 1739.5L1000.8 1743.8L1004.6 1741.5L1008.3 1743.8L1007.3 1739.5L1010.6 1736.6L1006.3 1736.3Z" fill="#FF00FF"/>
<path d="M1022.2 1754.2L1020.5 1758.3L1016.1 1758.6L1019.4 1761.5L1018.4 1765.8L1022.2 1763.5L1026 1765.8L1025 1761.5L1028.3 1758.6L1023.9 1758.3Z" fill="#FF00FF"/>
<path d="M1039.8 1777.2L1038.1 1781.3L1033.8 1781.6L1037.1 1784.5L1036.1 1788.8L1039.8 1786.5L1043.6 1788.8L1042.6 1784.5L1045.9 1781.6L1041.6 1781.3Z" fill="#FF00FF"/>
<path d="M1057.5 1800.2L1055.8 1804.3L1051.4 1804.6L1054.7 1807.5L1053.7 1811.8L1057.5 1809.5L1061.3 1811.8L1060.3 1807.5L1063.6 1804.6L1059.2 1804.3Z" fill="#FF00FF"/>
<path d="M1075.1 1824.7L1073.4 1828.8L1069.1 1829.1L1072.4 1832L1071.4 1836.3L1075.1 1834L1078.9 1836.3L1077.9 1832L1081.2 1829.1L1076.8 1828.8Z" fill="#FF00FF"/>
<path d="M1092.8 1849.7L1091.1 1853.8L1086.7 1854.1L1090 1857L1089 1861.3L1092.8 1859L1096.5 1861.3L1095.5 1857L1098.9 1854.1L1094.5 1853.8Z" fill="#FF00FF"/>
<path d="M1110.4 1874.2L1108.7 1878.3L1104.3 1878.6L1107.7 1881.5L1106.7 1885.8L1110.4 1883.5L1114.2 1885.8L1113.2 1881.5L1116.5 1878.6L1112.1 1878.3Z" fill="#FF00FF"/>
<path d="M1128.1 1899.2L1126.4 1903.3L1122 1903.6L1125.3 1906.5L1124.3 1910.8L1128.1 1908.5L1131.8 1910.8L1130.8 1906.5L1134.2 1903.6L1129.8 1903.3Z" fill="#FF00FF"/>
<path d="M1145.7 1924.2L1144 1928.3L1139.6 1928.6L1143 1931.5L1142 1935.8L1145.7 1933.5L1149.5 1935.8L1148.5 1931.5L1151.8 1928.6L1147.4 1928.3Z" fill="#FF00FF"/>
<path d="M1163.4 1951.2L1161.7 1955.3L1157.3 1955.6L1160.6 1958.5L1159.6 1962.8L1163.4 1960.5L1167.1 1962.8L1166.1 1958.5L1169.5 1955.6L1165.1 1955.3Z" fill="#FF00FF"/>
<path d="M1181 1974.6L1179.3 1978.7L1174.9 1979L1178.3 1981.9L1177.2 1986.2L1181 1983.9L1184.8 1986.2L1183.8 1981.9L1187.1 1979L1182.7 1978.7Z" fill="#FF00FF"/>
<path d="M1198.7 2002.2L1197 2006.3L1192.6 2006.6L1195.9 2009.5L1194.9 2013.8L1198.7 2011.5L1202.4 2013.8L1201.4 2009.5L1204.7 2006.6L1200.4 2006.3Z" fill="#FF00FF"/>
<path d="M1216.3 2027.3L1214.6 2031.4L1210.2 2031.7L1213.5 2034.6L1212.5 2038.9L1216.3 2036.6L1220.1 2038.9L1219.1 2034.6L1222.4 2031.7L1218 2031.4Z" fill="#FF00FF"/>
<path d="M1233.9 2051.4L1232.2 2055.5L1227.9 2055.8L1231.2 2058.7L1230.2 2063L1233.9 2060.7L1237.7 2063L1236.7 2058.7L1240 2055.8L1235.6 2055.5Z" fill="#FF00FF"/>
<path d="M1251.6 2076.1L1249.9 2080.2L1245.5 2080.5L1248.8 2083.4L1247.8 2087.7L1251.6 2085.4L1255.4 2087.7L1254.3 2083.4L1257.7 2080.5L1253.3 2080.2Z" fill="#FF00FF"/>
<path d="M1269.2 2099.7L1267.5 2103.8L1263.1 2104.1L1266.5 2107L1265.5 2111.3L1269.2 2109L1273 2111.3L1272 2107L1275.3 2104.1L1270.9 2103.8Z" fill="#FF00FF"/>
<path d="M1286.9 2120.2L1285.2 2124.3L1280.8 2124.6L1284.1 2127.5L1283.1 2131.8L1286.9 2129.5L1290.6 2131.8L1289.6 2127.5L1293 2124.6L1288.6 2124.3Z" fill="#FF00FF"/>
<path d="M1304.5 2141.8L1302.8 2145.9L1298.4 2146.2L1301.8 2149.1L1300.8 2153.4L1304.5 2151.1L1308.3 2153.4L1307.3 2149.1L1310.6 2146.2L1306.2 2145.9Z" fill="#FF00FF"/>
<path d="M1322.2 2163.6L1320.5 2167.7L1316.1 2168L1319.4 2170.9L1318.4 2175.2L1322.2 2172.9L1325.9 2175.2L1324.9 2170.9L1328.3 2168L1323.9 2167.7Z" fill="#FF00FF"/>
<path d="M1339.8 2182.1L1338.1 2186.2L1333.7 2186.5L1337.1 2189.4L1336.1 2193.7L1339.8 2191.4L1343.6 2193.7L1342.6 2189.4L1345.9 2186.5L1341.5 2186.2Z" fill="#FF00FF"/>
<path d="M1357.5 2199.4L1355.8 2203.5L1351.4 2203.8L1354.7 2206.7L1353.7 2211L1357.5 2208.7L1361.2 2211L1360.2 2206.7L1363.5 2203.8L1359.2 2203.5Z" fill="#FF00FF"/>
<path d="M1375.1 2213.2L1373.4 2217.3L1369 2217.6L1372.3 2220.5L1371.3 2224.8L1375.1 2222.5L1378.9 2224.8L1377.9 2220.5L1381.2 2217.6L1376.8 2217.3Z" fill="#FF00FF"/>
<path d="M1392.8 2225.9L1391 2230L1386.7 2230.3L1390 2233.2L1389 2237.5L1392.8 2235.2L1396.5 2237.5L1395.5 2233.2L1398.8 2230.3L1394.5 2230Z" fill="#FF00FF"/>
<path d="M1410.4 2235.7L1408.7 2239.8L1404.3 2240.1L1407.6 2243L1406.6 2247.3L1410.4 2245L1414.2 2247.3L1413.2 2243L1416.5 2240.1L1412.1 2239.8Z" fill="#FF00FF"/>
<path d="M1428 2245.5L1426.3 2249.6L1422 2249.9L1425.3 2252.8L1424.3 2257.1L1428 2254.8L1431.8 2257.1L1430.8 2252.8L1434.1 2249.9L1429.7 2249.6Z" fill="#FF00FF"/>
<path d="M1445.7 2253.2L1444 2257.3L1439.6 2257.6L1442.9 2260.5L1441.9 2264.8L1445.7 2262.5L1449.4 2264.8L1448.4 2260.5L1451.8 2257.6L1447.4 2257.3Z" fill="#FF00FF"/>
<path d="M1463.3 2259.1L1461.6 2263.2L1457.2 2263.5L1460.6 2266.4L1459.6 2270.7L1463.3 2268.4L1467.1 2270.7L1466.1 2266.4L1469.4 2263.5L1465 2263.2Z" fill="#FF00FF"/>
<path d="M1481 2264.2L1479.3 2268.3L1474.9 2268.6L1478.2 2271.5L1477.2 2275.8L1481 2273.5L1484.7 2275.8L1483.7 2271.5L1487.1 2268.6L1482.7 2268.3Z" fill="#FF00FF"/>
<path d="M1498.6 2267.9L1496.9 2272L1492.5 2272.3L1495.9 2275.2L1494.9 2279.5L1498.6 2277.2L1502.4 2279.5L1501.4 2275.2L1504.7 2272.3L1500.3 2272Z" fill="#FF00FF"/>
<path d="M1516.3 2271.4L1514.6 2275.5L1510.2 2275.8L1513.5 2278.7L1512.5 2283L1516.3 2280.7L1520 2283L1519 2278.7L1522.4 2275.8L1518 2275.5Z" fill="#FF00FF"/>
<path d="M1533.9 2274L1532.2 2278.1L1527.8 2278.4L1531.2 2281.3L1530.1 2285.6L1533.9 2283.3L1537.7 2285.6L1536.7 2281.3L1540 2278.4L1535.6 2278.1Z" fill="#FF00FF"/>
<path d="M1551.6 2276.2L1549.9 2280.3L1545.5 2280.6L1548.8 2283.5L1547.8 2287.8L1551.6 2285.5L1555.3 2287.8L1554.3 2283.5L1557.6 2280.6L1553.3 2280.3Z" fill="#FF00FF"/>
<path d="M1569.2 2278L1567.5 2282.1L1563.1 2282.4L1566.4 2285.3L1565.4 2289.6L1569.2 2287.3L1573 2289.6L1572 2285.3L1575.3 2282.4L1570.9 2282.1Z" fill="#FF00FF"/>
<path d="M1586.8 2279.5L1585.1 2283.6L1580.8 2283.9L1584.1 2286.8L1583.1 2291.1L1586.8 2288.8L1590.6 2291.1L1589.6 2286.8L1592.9 2283.9L1588.5 2283.6Z" fill="#FF00FF"/>
<path d="M1604.5 2280.6L1602.8 2284.7L1598.4 2285L1601.7 2287.9L1600.7 2292.2L1604.5 2289.9L1608.3 2292.2L1607.2 2287.9L1610.6 2285L1606.2 2284.7Z" fill="#FF00FF"/>
<path d="M1622.1 2281.7L1620.4 2285.8L1616 2286.1L1619.4 2289L1618.4 2293.3L1622.1 2291L1625.9 2293.3L1624.9 2289L1628.2 2286.1L1623.8 2285.8Z" fill="#FF00FF"/>
<path d="M1639.8 2282.3L1638.1 2286.4L1633.7 2286.7L1637 2289.6L1636 2293.9L1639.8 2291.6L1643.5 2293.9L1642.5 2289.6L1645.9 2286.7L1641.5 2286.4Z" fill="#FF00FF"/>
<path d="M1657.4 2282.8L1655.7 2286.9L1651.3 2287.2L1654.7 2290.1L1653.7 2294.4L1657.4 2292.1L1661.2 2294.4L1660.2 2290.1L1663.5 2287.2L1659.1 2286.9Z" fill="#FF00FF"/>
<path d="M1675.1 2283.4L1673.4 2287.5L1669 2287.8L1672.3 2290.7L1671.3 2295L1675.1 2292.7L1678.8 2295L1677.8 2290.7L1681.2 2287.8L1676.8 2287.5Z" fill="#FF00FF"/>
<path d="M1692.7 2283.9L1691 2288L1686.6 2288.3L1690 2291.2L1689 2295.5L1692.7 2293.2L1696.5 2295.5L1695.5 2291.2L1698.8 2288.3L1694.4 2288Z" fill="#FF00FF"/>
<path d="M1710.4 2284.3L1708.7 2288.4L1704.3 2288.7L1707.6 2291.6L1706.6 2295.9L1710.4 2293.6L1714.1 2295.9L1713.1 2291.6L1716.4 2288.7L1712.1 2288.4Z" fill="#FF00FF"/>
<path d="M1728 2284.5L1726.3 2288.6L1721.9 2288.9L1725.2 2291.8L1724.2 2296.1L1728 2293.8L1731.8 2296.1L1730.8 2291.8L1734.1 2288.9L1729.7 2288.6Z" fill="#FF00FF"/>
<path d="M1745.7 2285L1743.9 2289.1L1739.6 2289.4L1742.9 2292.3L1741.9 2296.6L1745.7 2294.3L1749.4 2296.6L1748.4 2292.3L1751.7 2289.4L1747.4 2289.1Z" fill="#FF00FF"/>
<path d="M739.9 1534.3 L757.5 1543 L775.2 1552.3 L792.8 1562 L810.5 1574.1 L828.1 1586.5 L845.8 1602.9 L863.4 1633.2 L881 1608.1 L898.7 1622.8 L916.3 1638.4 L934 1655.6 L951.6 1673.8 L969.3 1693.6 L986.9 1713.5 L1004.6 1736 L1022.2 1757.3 L1039.8 1780.9 L1057.5 1803 L1075.1 1827.4 L1092.8 1852.6 L1110.4 1876.4 L1128.1 1900.9 L1145.7 1926.1 L1163.4 1950.1 L1181 1974.6 L1198.7 1998.8 L1216.3 2021.8 L1233.9 2045.2 L1251.6 2067 L1269.2 2087.6 L1286.9 2106.7 L1304.5 2124.5 L1322.2 2142.2 L1339.8 2157.4 L1357.5 2170 L1375.1 2180.4 L1392.8 2190.2 L1410.4 2198.3 L1428 2204.9 L1445.7 2210.2 L1463.3 2214.6 L1481 2218.1 L1498.6 2221.1 L1516.3 2223.3 L1533.9 2225.5 L1551.6 2226.8 L1569.2 2228.4 L1586.8 2229.5 L1604.5 2230.6 L1622.1 2231.6 L1639.8 2232.3 L1657.4 2232.7 L1675.1 2233.2 L1692.7 2233.4 L1710.4 2233.6 L1728 2233.8 L1745.7 2234" fill="none" stroke="#FFFF00" stroke-width="3" stroke-linejoin="round"/>
<circle cx="739.9" cy="1534.3" r="5.1" fill="#FFFF00"/><circle cx="738.1" cy="1532.7" r="2.2" fill="#FFFFA0"/><circle cx="737.9" cy="1532.5" r="1.1" fill="#fff"/>
<circle cx="757.5" cy="1543" r="5.1" fill="#FFFF00"/><circle cx="755.8" cy="1541.4" r="2.2" fill="#FFFFA0"/><circle cx="755.6" cy="1541.2" r="1.1" fill="#fff"/>
<circle cx="775.2" cy="1552.3" r="5.1" fill="#FFFF00"/><circle cx="773.4" cy="1550.7" r="2.2" fill="#FFFFA0"/><circle cx="773.2" cy="1550.5" r="1.1" fill="#fff"/>
<circle cx="792.8" cy="1562" r="5.1" fill="#FFFF00"/><circle cx="791.1" cy="1560.4" r="2.2" fill="#FFFFA0"/><circle cx="790.9" cy="1560.2" r="1.1" fill="#fff"/>
<circle cx="810.5" cy="1574.1" r="5.1" fill="#FFFF00"/><circle cx="808.7" cy="1572.5" r="2.2" fill="#FFFFA0"/><circle cx="808.5" cy="1572.3" r="1.1" fill="#fff"/>
<circle cx="828.1" cy="1586.5" r="5.1" fill="#FFFF00"/><circle cx="826.4" cy="1584.9" r="2.2" fill="#FFFFA0"/><circle cx="826.2" cy="1584.7" r="1.1" fill="#fff"/>
<circle cx="845.8" cy="1602.9" r="5.1" fill="#FFFF00"/><circle cx="844" cy="1601.3" r="2.2" fill="#FFFFA0"/><circle cx="843.8" cy="1601.1" r="1.1" fill="#fff"/>
<circle cx="863.4" cy="1633.2" r="5.1" fill="#FFFF00"/><circle cx="861.7" cy="1631.6" r="2.2" fill="#FFFFA0"/><circle cx="861.5" cy="1631.4" r="1.1" fill="#fff"/>
<circle cx="881" cy="1608.1" r="5.1" fill="#FFFF00"/><circle cx="879.3" cy="1606.5" r="2.2" fill="#FFFFA0"/><circle cx="879.1" cy="1606.3" r="1.1" fill="#fff"/>
<circle cx="898.7" cy="1622.8" r="5.1" fill="#FFFF00"/><circle cx="896.9" cy="1621.2" r="2.2" fill="#FFFFA0"/><circle cx="896.7" cy="1621" r="1.1" fill="#fff"/>
<circle cx="916.3" cy="1638.4" r="5.1" fill="#FFFF00"/><circle cx="914.6" cy="1636.8" r="2.2" fill="#FFFFA0"/><circle cx="914.4" cy="1636.6" r="1.1" fill="#fff"/>
<circle cx="934" cy="1655.6" r="5.1" fill="#FFFF00"/><circle cx="932.2" cy="1654" r="2.2" fill="#FFFFA0"/><circle cx="932" cy="1653.8" r="1.1" fill="#fff"/>
<circle cx="951.6" cy="1673.8" r="5.1" fill="#FFFF00"/><circle cx="949.9" cy="1672.2" r="2.2" fill="#FFFFA0"/><circle cx="949.7" cy="1672" r="1.1" fill="#fff"/>
<circle cx="969.3" cy="1693.6" r="5.1" fill="#FFFF00"/><circle cx="967.5" cy="1692" r="2.2" fill="#FFFFA0"/><circle cx="967.3" cy="1691.8" r="1.1" fill="#fff"/>
<circle cx="986.9" cy="1713.5" r="5.1" fill="#FFFF00"/><circle cx="985.2" cy="1711.9" r="2.2" fill="#FFFFA0"/><circle cx="985" cy="1711.7" r="1.1" fill="#fff"/>
<circle cx="1004.6" cy="1736" r="5.1" fill="#FFFF00"/><circle cx="1002.8" cy="1734.4" r="2.2" fill="#FFFFA0"/><circle cx="1002.6" cy="1734.2" r="1.1" fill="#fff"/>
<circle cx="1022.2" cy="1757.3" r="5.1" fill="#FFFF00"/><circle cx="1020.5" cy="1755.7" r="2.2" fill="#FFFFA0"/><circle cx="1020.3" cy="1755.5" r="1.1" fill="#fff"/>
<circle cx="1039.8" cy="1780.9" r="5.1" fill="#FFFF00"/><circle cx="1038.1" cy="1779.3" r="2.2" fill="#FFFFA0"/><circle cx="1037.9" cy="1779.1" r="1.1" fill="#fff"/>
<circle cx="1057.5" cy="1803" r="5.1" fill="#FFFF00"/><circle cx="1055.7" cy="1801.4" r="2.2" fill="#FFFFA0"/><circle cx="1055.6" cy="1801.2" r="1.1" fill="#fff"/>
<circle cx="1075.1" cy="1827.4" r="5.1" fill="#FFFF00"/><circle cx="1073.4" cy="1825.8" r="2.2" fill="#FFFFA0"/><circle cx="1073.2" cy="1825.6" r="1.1" fill="#fff"/>
<circle cx="1092.8" cy="1852.6" r="5.1" fill="#FFFF00"/><circle cx="1091" cy="1851" r="2.2" fill="#FFFFA0"/><circle cx="1090.8" cy="1850.8" r="1.1" fill="#fff"/>
<circle cx="1110.4" cy="1876.4" r="5.1" fill="#FFFF00"/><circle cx="1108.7" cy="1874.8" r="2.2" fill="#FFFFA0"/><circle cx="1108.5" cy="1874.6" r="1.1" fill="#fff"/>
<circle cx="1128.1" cy="1900.9" r="5.1" fill="#FFFF00"/><circle cx="1126.3" cy="1899.3" r="2.2" fill="#FFFFA0"/><circle cx="1126.1" cy="1899.1" r="1.1" fill="#fff"/>
<circle cx="1145.7" cy="1926.1" r="5.1" fill="#FFFF00"/><circle cx="1144" cy="1924.5" r="2.2" fill="#FFFFA0"/><circle cx="1143.8" cy="1924.3" r="1.1" fill="#fff"/>
<circle cx="1163.4" cy="1950.1" r="5.1" fill="#FFFF00"/><circle cx="1161.6" cy="1948.5" r="2.2" fill="#FFFFA0"/><circle cx="1161.4" cy="1948.3" r="1.1" fill="#fff"/>
<circle cx="1181" cy="1974.6" r="5.1" fill="#FFFF00"/><circle cx="1179.3" cy="1973" r="2.2" fill="#FFFFA0"/><circle cx="1179.1" cy="1972.8" r="1.1" fill="#fff"/>
<circle cx="1198.7" cy="1998.8" r="5.1" fill="#FFFF00"/><circle cx="1196.9" cy="1997.2" r="2.2" fill="#FFFFA0"/><circle cx="1196.7" cy="1997" r="1.1" fill="#fff"/>
<circle cx="1216.3" cy="2021.8" r="5.1" fill="#FFFF00"/><circle cx="1214.6" cy="2020.2" r="2.2" fill="#FFFFA0"/><circle cx="1214.4" cy="2020" r="1.1" fill="#fff"/>
<circle cx="1233.9" cy="2045.2" r="5.1" fill="#FFFF00"/><circle cx="1232.2" cy="2043.6" r="2.2" fill="#FFFFA0"/><circle cx="1232" cy="2043.4" r="1.1" fill="#fff"/>
<circle cx="1251.6" cy="2067" r="5.1" fill="#FFFF00"/><circle cx="1249.8" cy="2065.4" r="2.2" fill="#FFFFA0"/><circle cx="1249.6" cy="2065.2" r="1.1" fill="#fff"/>
<circle cx="1269.2" cy="2087.6" r="5.1" fill="#FFFF00"/><circle cx="1267.5" cy="2086" r="2.2" fill="#FFFFA0"/><circle cx="1267.3" cy="2085.8" r="1.1" fill="#fff"/>
<circle cx="1286.9" cy="2106.7" r="5.1" fill="#FFFF00"/><circle cx="1285.1" cy="2105.1" r="2.2" fill="#FFFFA0"/><circle cx="1284.9" cy="2104.9" r="1.1" fill="#fff"/>
<circle cx="1304.5" cy="2124.5" r="5.1" fill="#FFFF00"/><circle cx="1302.8" cy="2122.9" r="2.2" fill="#FFFFA0"/><circle cx="1302.6" cy="2122.7" r="1.1" fill="#fff"/>
<circle cx="1322.2" cy="2142.2" r="5.1" fill="#FFFF00"/><circle cx="1320.4" cy="2140.6" r="2.2" fill="#FFFFA0"/><circle cx="1320.2" cy="2140.4" r="1.1" fill="#fff"/>
<circle cx="1339.8" cy="2157.4" r="5.1" fill="#FFFF00"/><circle cx="1338.1" cy="2155.8" r="2.2" fill="#FFFFA0"/><circle cx="1337.9" cy="2155.6" r="1.1" fill="#fff"/>
<circle cx="1357.5" cy="2170" r="5.1" fill="#FFFF00"/><circle cx="1355.7" cy="2168.4" r="2.2" fill="#FFFFA0"/><circle cx="1355.5" cy="2168.2" r="1.1" fill="#fff"/>
<circle cx="1375.1" cy="2180.4" r="5.1" fill="#FFFF00"/><circle cx="1373.4" cy="2178.8" r="2.2" fill="#FFFFA0"/><circle cx="1373.2" cy="2178.6" r="1.1" fill="#fff"/>
<circle cx="1392.8" cy="2190.2" r="5.1" fill="#FFFF00"/><circle cx="1391" cy="2188.6" r="2.2" fill="#FFFFA0"/><circle cx="1390.8" cy="2188.4" r="1.1" fill="#fff"/>
<circle cx="1410.4" cy="2198.3" r="5.1" fill="#FFFF00"/><circle cx="1408.6" cy="2196.7" r="2.2" fill="#FFFFA0"/><circle cx="1408.5" cy="2196.5" r="1.1" fill="#fff"/>
<circle cx="1428" cy="2204.9" r="5.1" fill="#FFFF00"/><circle cx="1426.3" cy="2203.3" r="2.2" fill="#FFFFA0"/><circle cx="1426.1" cy="2203.1" r="1.1" fill="#fff"/>
<circle cx="1445.7" cy="2210.2" r="5.1" fill="#FFFF00"/><circle cx="1443.9" cy="2208.6" r="2.2" fill="#FFFFA0"/><circle cx="1443.7" cy="2208.4" r="1.1" fill="#fff"/>
<circle cx="1463.3" cy="2214.6" r="5.1" fill="#FFFF00"/><circle cx="1461.6" cy="2213" r="2.2" fill="#FFFFA0"/><circle cx="1461.4" cy="2212.8" r="1.1" fill="#fff"/>
<circle cx="1481" cy="2218.1" r="5.1" fill="#FFFF00"/><circle cx="1479.2" cy="2216.5" r="2.2" fill="#FFFFA0"/><circle cx="1479" cy="2216.3" r="1.1" fill="#fff"/>
<circle cx="1498.6" cy="2221.1" r="5.1" fill="#FFFF00"/><circle cx="1496.9" cy="2219.5" r="2.2" fill="#FFFFA0"/><circle cx="1496.7" cy="2219.3" r="1.1" fill="#fff"/>
<circle cx="1516.3" cy="2223.3" r="5.1" fill="#FFFF00"/><circle cx="1514.5" cy="2221.7" r="2.2" fill="#FFFFA0"/><circle cx="1514.3" cy="2221.5" r="1.1" fill="#fff"/>
<circle cx="1533.9" cy="2225.5" r="5.1" fill="#FFFF00"/><circle cx="1532.2" cy="2223.9" r="2.2" fill="#FFFFA0"/><circle cx="1532" cy="2223.7" r="1.1" fill="#fff"/>
<circle cx="1551.6" cy="2226.8" r="5.1" fill="#FFFF00"/><circle cx="1549.8" cy="2225.2" r="2.2" fill="#FFFFA0"/><circle cx="1549.6" cy="2225" r="1.1" fill="#fff"/>
<circle cx="1569.2" cy="2228.4" r="5.1" fill="#FFFF00"/><circle cx="1567.5" cy="2226.8" r="2.2" fill="#FFFFA0"/><circle cx="1567.3" cy="2226.6" r="1.1" fill="#fff"/>
<circle cx="1586.8" cy="2229.5" r="5.1" fill="#FFFF00"/><circle cx="1585.1" cy="2227.9" r="2.2" fill="#FFFFA0"/><circle cx="1584.9" cy="2227.7" r="1.1" fill="#fff"/>
<circle cx="1604.5" cy="2230.6" r="5.1" fill="#FFFF00"/><circle cx="1602.7" cy="2229" r="2.2" fill="#FFFFA0"/><circle cx="1602.5" cy="2228.8" r="1.1" fill="#fff"/>
<circle cx="1622.1" cy="2231.6" r="5.1" fill="#FFFF00"/><circle cx="1620.4" cy="2230" r="2.2" fill="#FFFFA0"/><circle cx="1620.2" cy="2229.8" r="1.1" fill="#fff"/>
<circle cx="1639.8" cy="2232.3" r="5.1" fill="#FFFF00"/><circle cx="1638" cy="2230.7" r="2.2" fill="#FFFFA0"/><circle cx="1637.8" cy="2230.5" r="1.1" fill="#fff"/>
<circle cx="1657.4" cy="2232.7" r="5.1" fill="#FFFF00"/><circle cx="1655.7" cy="2231.1" r="2.2" fill="#FFFFA0"/><circle cx="1655.5" cy="2230.9" r="1.1" fill="#fff"/>
<circle cx="1675.1" cy="2233.2" r="5.1" fill="#FFFF00"/><circle cx="1673.3" cy="2231.6" r="2.2" fill="#FFFFA0"/><circle cx="1673.1" cy="2231.4" r="1.1" fill="#fff"/>
<circle cx="1692.7" cy="2233.4" r="5.1" fill="#FFFF00"/><circle cx="1691" cy="2231.8" r="2.2" fill="#FFFFA0"/><circle cx="1690.8" cy="2231.6" r="1.1" fill="#fff"/>
<circle cx="1710.4" cy="2233.6" r="5.1" fill="#FFFF00"/><circle cx="1708.6" cy="2232" r="2.2" fill="#FFFFA0"/><circle cx="1708.4" cy="2231.8" r="1.1" fill="#fff"/>
<circle cx="1728" cy="2233.8" r="5.1" fill="#FFFF00"/><circle cx="1726.3" cy="2232.2" r="2.2" fill="#FFFFA0"/><circle cx="1726.1" cy="2232" r="1.1" fill="#fff"/>
<circle cx="1745.7" cy="2234" r="5.1" fill="#FFFF00"/><circle cx="1743.9" cy="2232.4" r="2.2" fill="#FFFFA0"/><circle cx="1743.7" cy="2232.2" r="1.1" fill="#fff"/>
</g>
<g id="curves-b-p">
<path d="M739.9 1846.4 L757.5 1874.7 L775.2 1907 L792.8 1941 L810.5 1975.4 L828.1 2010 L845.8 2044.8 L863.4 2071.4 L881 2123.4 L898.7 2156.6 L916.3 2188.9 L934 2216.7 L951.6 2241.3 L969.3 2263.5 L986.9 2281.6 L1004.6 2296.8 L1022.2 2308.9 L1039.8 2318.9 L1057.5 2325 L1075.1 2330 L1092.8 2331 L1110.4 2330 L1128.1 2325 L1145.7 2318.9 L1163.4 2312 L1181 2297.7 L1198.7 2281.6 L1216.3 2262.5 L1233.9 2239 L1251.6 2213.2 L1269.2 2184.4 L1286.9 2148.7 L1304.5 2113.6 L1322.2 2076.1 L1339.8 2040 L1357.5 2003 L1375.1 1966 L1392.8 1930 L1410.4 1900 L1428 1874 L1445.7 1850 L1463.3 1831 L1481 1813 L1498.6 1798 L1516.3 1787 L1533.9 1778 L1551.6 1771 L1569.2 1767 L1586.8 1765 L1604.5 1765 L1622.1 1769.8 L1639.8 1778.7 L1657.4 1790.1 L1675.1 1807.2 L1692.7 1830.6 L1710.4 1861.5 L1728 1900.3 L1745.7 1949.6" fill="none" stroke="#FF0000" stroke-width="3" stroke-linejoin="round"/>
<rect x="735.8" y="1842.3" width="8.2" height="8.2" fill="#FF0000"/>
<rect x="753.4" y="1870.6" width="8.2" height="8.2" fill="#FF0000"/>
<rect x="771.1" y="1902.9" width="8.2" height="8.2" fill="#FF0000"/>
<rect x="788.7" y="1936.9" width="8.2" height="8.2" fill="#FF0000"/>
<rect x="806.4" y="1971.3" width="8.2" height="8.2" fill="#FF0000"/>
<rect x="824" y="2005.9" width="8.2" height="8.2" fill="#FF0000"/>
<rect x="841.7" y="2040.7" width="8.2" height="8.2" fill="#FF0000"/>
<rect x="859.3" y="2067.3" width="8.2" height="8.2" fill="#FF0000"/>
<rect x="876.9" y="2119.3" width="8.2" height="8.2" fill="#FF0000"/>
<rect x="894.6" y="2152.5" width="8.2" height="8.2" fill="#FF0000"/>
<rect x="912.2" y="2184.8" width="8.2" height="8.2" fill="#FF0000"/>
<rect x="929.9" y="2212.6" width="8.2" height="8.2" fill="#FF0000"/>
<rect x="947.5" y="2237.2" width="8.2" height="8.2" fill="#FF0000"/>
<rect x="965.2" y="2259.4" width="8.2" height="8.2" fill="#FF0000"/>
<rect x="982.8" y="2277.5" width="8.2" height="8.2" fill="#FF0000"/>
<rect x="1000.5" y="2292.7" width="8.2" height="8.2" fill="#FF0000"/>
<rect x="1018.1" y="2304.8" width="8.2" height="8.2" fill="#FF0000"/>
<rect x="1035.8" y="2314.8" width="8.2" height="8.2" fill="#FF0000"/>
<rect x="1053.4" y="2320.9" width="8.2" height="8.2" fill="#FF0000"/>
<rect x="1071" y="2325.9" width="8.2" height="8.2" fill="#FF0000"/>
<rect x="1088.7" y="2326.9" width="8.2" height="8.2" fill="#FF0000"/>
<rect x="1106.3" y="2325.9" width="8.2" height="8.2" fill="#FF0000"/>
<rect x="1124" y="2320.9" width="8.2" height="8.2" fill="#FF0000"/>
<rect x="1141.6" y="2314.8" width="8.2" height="8.2" fill="#FF0000"/>
<rect x="1159.3" y="2307.9" width="8.2" height="8.2" fill="#FF0000"/>
<rect x="1176.9" y="2293.6" width="8.2" height="8.2" fill="#FF0000"/>
<rect x="1194.6" y="2277.5" width="8.2" height="8.2" fill="#FF0000"/>
<rect x="1212.2" y="2258.4" width="8.2" height="8.2" fill="#FF0000"/>
<rect x="1229.8" y="2234.9" width="8.2" height="8.2" fill="#FF0000"/>
<rect x="1247.5" y="2209.1" width="8.2" height="8.2" fill="#FF0000"/>
<rect x="1265.1" y="2180.3" width="8.2" height="8.2" fill="#FF0000"/>
<rect x="1282.8" y="2144.6" width="8.2" height="8.2" fill="#FF0000"/>
<rect x="1300.4" y="2109.5" width="8.2" height="8.2" fill="#FF0000"/>
<rect x="1318.1" y="2072" width="8.2" height="8.2" fill="#FF0000"/>
<rect x="1335.7" y="2035.9" width="8.2" height="8.2" fill="#FF0000"/>
<rect x="1353.4" y="1998.9" width="8.2" height="8.2" fill="#FF0000"/>
<rect x="1371" y="1961.9" width="8.2" height="8.2" fill="#FF0000"/>
<rect x="1388.7" y="1925.9" width="8.2" height="8.2" fill="#FF0000"/>
<rect x="1406.3" y="1895.9" width="8.2" height="8.2" fill="#FF0000"/>
<rect x="1423.9" y="1869.9" width="8.2" height="8.2" fill="#FF0000"/>
<rect x="1441.6" y="1845.9" width="8.2" height="8.2" fill="#FF0000"/>
<rect x="1459.2" y="1826.9" width="8.2" height="8.2" fill="#FF0000"/>
<rect x="1476.9" y="1808.9" width="8.2" height="8.2" fill="#FF0000"/>
<rect x="1494.5" y="1793.9" width="8.2" height="8.2" fill="#FF0000"/>
<rect x="1512.2" y="1782.9" width="8.2" height="8.2" fill="#FF0000"/>
<rect x="1529.8" y="1773.9" width="8.2" height="8.2" fill="#FF0000"/>
<rect x="1547.5" y="1766.9" width="8.2" height="8.2" fill="#FF0000"/>
<rect x="1565.1" y="1762.9" width="8.2" height="8.2" fill="#FF0000"/>
<rect x="1582.7" y="1760.9" width="8.2" height="8.2" fill="#FF0000"/>
<rect x="1600.4" y="1760.9" width="8.2" height="8.2" fill="#FF0000"/>
<rect x="1618" y="1765.7" width="8.2" height="8.2" fill="#FF0000"/>
<rect x="1635.7" y="1774.6" width="8.2" height="8.2" fill="#FF0000"/>
<rect x="1653.3" y="1786" width="8.2" height="8.2" fill="#FF0000"/>
<rect x="1671" y="1803.1" width="8.2" height="8.2" fill="#FF0000"/>
<rect x="1688.6" y="1826.5" width="8.2" height="8.2" fill="#FF0000"/>
<rect x="1706.3" y="1857.4" width="8.2" height="8.2" fill="#FF0000"/>
<rect x="1723.9" y="1896.2" width="8.2" height="8.2" fill="#FF0000"/>
<rect x="1741.6" y="1945.5" width="8.2" height="8.2" fill="#FF0000"/>
<path d="M739.9 1818.3 L757.5 1834.8 L775.2 1851.9 L792.8 1870.9 L810.5 1890.5 L828.1 1910.8 L845.8 1931.3 L863.4 1941 L881 2011.2 L898.7 2039.1 L916.3 2067 L934 2093.1 L951.6 2118.3 L969.3 2141.5 L986.9 2162.7 L1004.6 2181.8 L1022.2 2197.9 L1039.8 2212.1 L1057.5 2223.5 L1075.1 2231.6 L1092.8 2238.3 L1110.4 2241.3 L1128.1 2241.3 L1145.7 2240.3 L1163.4 2228.2 L1181 2228.2 L1198.7 2218.1 L1216.3 2203 L1233.9 2186 L1251.6 2165.3 L1269.2 2142 L1286.9 2115.5 L1304.5 2087 L1322.2 2058 L1339.8 2023.6 L1357.5 1989.9 L1375.1 1957.9 L1392.8 1925.7 L1410.4 1897.8 L1428 1871.8 L1445.7 1847.7 L1463.3 1828.7 L1481 1811 L1498.6 1796.4 L1516.3 1785.6 L1533.9 1776.8 L1551.6 1770.4 L1569.2 1766.6 L1586.8 1764.7 L1604.5 1765.5 L1622.1 1770 L1639.8 1780 L1657.4 1793 L1675.1 1813 L1692.7 1840 L1710.4 1873.8 L1728 1914.5 L1745.7 1968.1" fill="none" stroke="#00FF00" stroke-width="3" stroke-linejoin="round"/>
<rect x="735.8" y="1814.2" width="8.2" height="8.2" fill="#00FF00"/>
<rect x="753.4" y="1830.7" width="8.2" height="8.2" fill="#00FF00"/>
<rect x="771.1" y="1847.8" width="8.2" height="8.2" fill="#00FF00"/>
<rect x="788.7" y="1866.8" width="8.2" height="8.2" fill="#00FF00"/>
<rect x="806.4" y="1886.4" width="8.2" height="8.2" fill="#00FF00"/>
<rect x="824" y="1906.7" width="8.2" height="8.2" fill="#00FF00"/>
<rect x="841.7" y="1927.2" width="8.2" height="8.2" fill="#00FF00"/>
<rect x="859.3" y="1936.9" width="8.2" height="8.2" fill="#00FF00"/>
<rect x="876.9" y="2007.1" width="8.2" height="8.2" fill="#00FF00"/>
<rect x="894.6" y="2035" width="8.2" height="8.2" fill="#00FF00"/>
<rect x="912.2" y="2062.9" width="8.2" height="8.2" fill="#00FF00"/>
<rect x="929.9" y="2089" width="8.2" height="8.2" fill="#00FF00"/>
<rect x="947.5" y="2114.2" width="8.2" height="8.2" fill="#00FF00"/>
<rect x="965.2" y="2137.4" width="8.2" height="8.2" fill="#00FF00"/>
<rect x="982.8" y="2158.6" width="8.2" height="8.2" fill="#00FF00"/>
<rect x="1000.5" y="2177.7" width="8.2" height="8.2" fill="#00FF00"/>
<rect x="1018.1" y="2193.8" width="8.2" height="8.2" fill="#00FF00"/>
<rect x="1035.8" y="2208" width="8.2" height="8.2" fill="#00FF00"/>
<rect x="1053.4" y="2219.4" width="8.2" height="8.2" fill="#00FF00"/>
<rect x="1071" y="2227.5" width="8.2" height="8.2" fill="#00FF00"/>
<rect x="1088.7" y="2234.2" width="8.2" height="8.2" fill="#00FF00"/>
<rect x="1106.3" y="2237.2" width="8.2" height="8.2" fill="#00FF00"/>
<rect x="1124" y="2237.2" width="8.2" height="8.2" fill="#00FF00"/>
<rect x="1141.6" y="2236.2" width="8.2" height="8.2" fill="#00FF00"/>
<rect x="1159.3" y="2224.1" width="8.2" height="8.2" fill="#00FF00"/>
<rect x="1176.9" y="2224.1" width="8.2" height="8.2" fill="#00FF00"/>
<rect x="1194.6" y="2214" width="8.2" height="8.2" fill="#00FF00"/>
<rect x="1212.2" y="2198.9" width="8.2" height="8.2" fill="#00FF00"/>
<rect x="1229.8" y="2181.9" width="8.2" height="8.2" fill="#00FF00"/>
<rect x="1247.5" y="2161.2" width="8.2" height="8.2" fill="#00FF00"/>
<rect x="1265.1" y="2137.9" width="8.2" height="8.2" fill="#00FF00"/>
<rect x="1282.8" y="2111.4" width="8.2" height="8.2" fill="#00FF00"/>
<rect x="1300.4" y="2082.9" width="8.2" height="8.2" fill="#00FF00"/>
<rect x="1318.1" y="2053.9" width="8.2" height="8.2" fill="#00FF00"/>
<rect x="1335.7" y="2019.5" width="8.2" height="8.2" fill="#00FF00"/>
<rect x="1353.4" y="1985.8" width="8.2" height="8.2" fill="#00FF00"/>
<rect x="1371" y="1953.8" width="8.2" height="8.2" fill="#00FF00"/>
<rect x="1388.7" y="1921.6" width="8.2" height="8.2" fill="#00FF00"/>
<rect x="1406.3" y="1893.7" width="8.2" height="8.2" fill="#00FF00"/>
<rect x="1423.9" y="1867.7" width="8.2" height="8.2" fill="#00FF00"/>
<rect x="1441.6" y="1843.6" width="8.2" height="8.2" fill="#00FF00"/>
<rect x="1459.2" y="1824.6" width="8.2" height="8.2" fill="#00FF00"/>
<rect x="1476.9" y="1806.9" width="8.2" height="8.2" fill="#00FF00"/>
<rect x="1494.5" y="1792.3" width="8.2" height="8.2" fill="#00FF00"/>
<rect x="1512.2" y="1781.5" width="8.2" height="8.2" fill="#00FF00"/>
<rect x="1529.8" y="1772.7" width="8.2" height="8.2" fill="#00FF00"/>
<rect x="1547.5" y="1766.3" width="8.2" height="8.2" fill="#00FF00"/>
<rect x="1565.1" y="1762.5" width="8.2" height="8.2" fill="#00FF00"/>
<rect x="1582.7" y="1760.6" width="8.2" height="8.2" fill="#00FF00"/>
<rect x="1600.4" y="1761.4" width="8.2" height="8.2" fill="#00FF00"/>
<rect x="1618" y="1765.9" width="8.2" height="8.2" fill="#00FF00"/>
<rect x="1635.7" y="1775.9" width="8.2" height="8.2" fill="#00FF00"/>
<rect x="1653.3" y="1788.9" width="8.2" height="8.2" fill="#00FF00"/>
<rect x="1671" y="1808.9" width="8.2" height="8.2" fill="#00FF00"/>
<rect x="1688.6" y="1835.9" width="8.2" height="8.2" fill="#00FF00"/>
<rect x="1706.3" y="1869.7" width="8.2" height="8.2" fill="#00FF00"/>
<rect x="1723.9" y="1910.4" width="8.2" height="8.2" fill="#00FF00"/>
<rect x="1741.6" y="1964" width="8.2" height="8.2" fill="#00FF00"/>
<path d="M739.9 1826.5 L757.5 1841.1 L775.2 1852 L792.8 1866 L810.5 1882.9 L828.1 1900 L845.8 1918.4 L863.4 1924.1 L881 1971.3 L898.7 1993.5 L916.3 2017.6 L934 2041.7 L951.6 2066 L969.3 2092.1 L986.9 2116.3 L1004.6 2141.5 L1022.2 2162.7 L1039.8 2184.8 L1057.5 2203.4 L1075.1 2220.7 L1092.8 2233.2 L1110.4 2245.3 L1128.1 2253.4 L1145.7 2257.4 L1163.4 2251.8 L1181 2255.4 L1198.7 2249.4 L1216.3 2239.3 L1233.9 2224.7 L1251.6 2206.9 L1269.2 2184.4 L1286.9 2159.5 L1304.5 2129.8 L1322.2 2097.2 L1339.8 2063.7 L1357.5 2025.8 L1375.1 1991.6 L1392.8 1954.2 L1410.4 1923.1 L1428 1894 L1445.7 1866.7 L1463.3 1844.5 L1481 1824.3 L1498.6 1808.4 L1516.3 1795.1 L1533.9 1784.4 L1551.6 1776.8 L1569.2 1771 L1586.8 1770.4 L1604.5 1771 L1622.1 1775 L1639.8 1784 L1657.4 1796 L1675.1 1814 L1692.7 1838 L1710.4 1869 L1728 1909 L1745.7 1959" fill="none" stroke="#0000FF" stroke-width="3" stroke-linejoin="round"/>
<rect x="735.8" y="1822.4" width="8.2" height="8.2" fill="#0000FF"/>
<rect x="753.4" y="1837" width="8.2" height="8.2" fill="#0000FF"/>
<rect x="771.1" y="1847.9" width="8.2" height="8.2" fill="#0000FF"/>
<rect x="788.7" y="1861.9" width="8.2" height="8.2" fill="#0000FF"/>
<rect x="806.4" y="1878.8" width="8.2" height="8.2" fill="#0000FF"/>
<rect x="824" y="1895.9" width="8.2" height="8.2" fill="#0000FF"/>
<rect x="841.7" y="1914.3" width="8.2" height="8.2" fill="#0000FF"/>
<rect x="859.3" y="1920" width="8.2" height="8.2" fill="#0000FF"/>
<rect x="876.9" y="1967.2" width="8.2" height="8.2" fill="#0000FF"/>
<rect x="894.6" y="1989.4" width="8.2" height="8.2" fill="#0000FF"/>
<rect x="912.2" y="2013.5" width="8.2" height="8.2" fill="#0000FF"/>
<rect x="929.9" y="2037.6" width="8.2" height="8.2" fill="#0000FF"/>
<rect x="947.5" y="2061.9" width="8.2" height="8.2" fill="#0000FF"/>
<rect x="965.2" y="2088" width="8.2" height="8.2" fill="#0000FF"/>
<rect x="982.8" y="2112.2" width="8.2" height="8.2" fill="#0000FF"/>
<rect x="1000.5" y="2137.4" width="8.2" height="8.2" fill="#0000FF"/>
<rect x="1018.1" y="2158.6" width="8.2" height="8.2" fill="#0000FF"/>
<rect x="1035.8" y="2180.7" width="8.2" height="8.2" fill="#0000FF"/>
<rect x="1053.4" y="2199.3" width="8.2" height="8.2" fill="#0000FF"/>
<rect x="1071" y="2216.6" width="8.2" height="8.2" fill="#0000FF"/>
<rect x="1088.7" y="2229.1" width="8.2" height="8.2" fill="#0000FF"/>
<rect x="1106.3" y="2241.2" width="8.2" height="8.2" fill="#0000FF"/>
<rect x="1124" y="2249.3" width="8.2" height="8.2" fill="#0000FF"/>
<rect x="1141.6" y="2253.3" width="8.2" height="8.2" fill="#0000FF"/>
<rect x="1159.3" y="2247.7" width="8.2" height="8.2" fill="#0000FF"/>
<rect x="1176.9" y="2251.3" width="8.2" height="8.2" fill="#0000FF"/>
<rect x="1194.6" y="2245.3" width="8.2" height="8.2" fill="#0000FF"/>
<rect x="1212.2" y="2235.2" width="8.2" height="8.2" fill="#0000FF"/>
<rect x="1229.8" y="2220.6" width="8.2" height="8.2" fill="#0000FF"/>
<rect x="1247.5" y="2202.8" width="8.2" height="8.2" fill="#0000FF"/>
<rect x="1265.1" y="2180.3" width="8.2" height="8.2" fill="#0000FF"/>
<rect x="1282.8" y="2155.4" width="8.2" height="8.2" fill="#0000FF"/>
<rect x="1300.4" y="2125.7" width="8.2" height="8.2" fill="#0000FF"/>
<rect x="1318.1" y="2093.1" width="8.2" height="8.2" fill="#0000FF"/>
<rect x="1335.7" y="2059.6" width="8.2" height="8.2" fill="#0000FF"/>
<rect x="1353.4" y="2021.7" width="8.2" height="8.2" fill="#0000FF"/>
<rect x="1371" y="1987.5" width="8.2" height="8.2" fill="#0000FF"/>
<rect x="1388.7" y="1950.1" width="8.2" height="8.2" fill="#0000FF"/>
<rect x="1406.3" y="1919" width="8.2" height="8.2" fill="#0000FF"/>
<rect x="1423.9" y="1889.9" width="8.2" height="8.2" fill="#0000FF"/>
<rect x="1441.6" y="1862.6" width="8.2" height="8.2" fill="#0000FF"/>
<rect x="1459.2" y="1840.4" width="8.2" height="8.2" fill="#0000FF"/>
<rect x="1476.9" y="1820.2" width="8.2" height="8.2" fill="#0000FF"/>
<rect x="1494.5" y="1804.3" width="8.2" height="8.2" fill="#0000FF"/>
<rect x="1512.2" y="1791" width="8.2" height="8.2" fill="#0000FF"/>
<rect x="1529.8" y="1780.3" width="8.2" height="8.2" fill="#0000FF"/>
<rect x="1547.5" y="1772.7" width="8.2" height="8.2" fill="#0000FF"/>
<rect x="1565.1" y="1766.9" width="8.2" height="8.2" fill="#0000FF"/>
<rect x="1582.7" y="1766.3" width="8.2" height="8.2" fill="#0000FF"/>
<rect x="1600.4" y="1766.9" width="8.2" height="8.2" fill="#0000FF"/>
<rect x="1618" y="1770.9" width="8.2" height="8.2" fill="#0000FF"/>
<rect x="1635.7" y="1779.9" width="8.2" height="8.2" fill="#0000FF"/>
<rect x="1653.3" y="1791.9" width="8.2" height="8.2" fill="#0000FF"/>
<rect x="1671" y="1809.9" width="8.2" height="8.2" fill="#0000FF"/>
<rect x="1688.6" y="1833.9" width="8.2" height="8.2" fill="#0000FF"/>
<rect x="1706.3" y="1864.9" width="8.2" height="8.2" fill="#0000FF"/>
<rect x="1723.9" y="1904.9" width="8.2" height="8.2" fill="#0000FF"/>
<rect x="1741.6" y="1954.9" width="8.2" height="8.2" fill="#0000FF"/>
<path d="M739.9 1811.3 L757.5 1825.9 L775.2 1843 L792.8 1860.1 L810.5 1877.2 L828.1 1895.8 L845.8 1914 L863.4 1919.9 L881 1982.7 L898.7 2008.7 L916.3 2036 L934 2062.6 L951.6 2089.1 L969.3 2115.3 L986.9 2139.5 L1004.6 2164.7 L1022.2 2184.4 L1039.8 2204 L1057.5 2219.1 L1075.1 2237.3 L1092.8 2247.3 L1110.4 2257.4 L1128.1 2263.5 L1145.7 2266.5 L1163.4 2272.5 L1181 2263.5 L1198.7 2258.4 L1216.3 2248.3 L1233.9 2236.3 L1251.6 2220.1 L1269.2 2201.7 L1286.9 2179 L1304.5 2152 L1322.2 2124.4 L1339.8 2092.5 L1357.5 2058.5 L1375.1 2022.3 L1392.8 1988.1 L1410.4 1954.3 L1428 1922 L1445.7 1894 L1463.3 1868 L1481 1844.9 L1498.6 1825.9 L1516.3 1810.7 L1533.9 1797.7 L1551.6 1787.5 L1569.2 1781.2 L1586.8 1778.5 L1604.5 1778.7 L1622.1 1781.8 L1639.8 1788.8 L1657.4 1799 L1675.1 1815 L1692.7 1839 L1710.4 1870 L1728 1910 L1745.7 1956" fill="none" stroke="#00FFFF" stroke-width="3" stroke-linejoin="round"/>
<rect x="735.8" y="1807.2" width="8.2" height="8.2" fill="#00FFFF"/>
<rect x="753.4" y="1821.8" width="8.2" height="8.2" fill="#00FFFF"/>
<rect x="771.1" y="1838.9" width="8.2" height="8.2" fill="#00FFFF"/>
<rect x="788.7" y="1856" width="8.2" height="8.2" fill="#00FFFF"/>
<rect x="806.4" y="1873.1" width="8.2" height="8.2" fill="#00FFFF"/>
<rect x="824" y="1891.7" width="8.2" height="8.2" fill="#00FFFF"/>
<rect x="841.7" y="1909.9" width="8.2" height="8.2" fill="#00FFFF"/>
<rect x="859.3" y="1915.8" width="8.2" height="8.2" fill="#00FFFF"/>
<rect x="876.9" y="1978.6" width="8.2" height="8.2" fill="#00FFFF"/>
<rect x="894.6" y="2004.6" width="8.2" height="8.2" fill="#00FFFF"/>
<rect x="912.2" y="2031.9" width="8.2" height="8.2" fill="#00FFFF"/>
<rect x="929.9" y="2058.5" width="8.2" height="8.2" fill="#00FFFF"/>
<rect x="947.5" y="2085" width="8.2" height="8.2" fill="#00FFFF"/>
<rect x="965.2" y="2111.2" width="8.2" height="8.2" fill="#00FFFF"/>
<rect x="982.8" y="2135.4" width="8.2" height="8.2" fill="#00FFFF"/>
<rect x="1000.5" y="2160.6" width="8.2" height="8.2" fill="#00FFFF"/>
<rect x="1018.1" y="2180.3" width="8.2" height="8.2" fill="#00FFFF"/>
<rect x="1035.8" y="2199.9" width="8.2" height="8.2" fill="#00FFFF"/>
<rect x="1053.4" y="2215" width="8.2" height="8.2" fill="#00FFFF"/>
<rect x="1071" y="2233.2" width="8.2" height="8.2" fill="#00FFFF"/>
<rect x="1088.7" y="2243.2" width="8.2" height="8.2" fill="#00FFFF"/>
<rect x="1106.3" y="2253.3" width="8.2" height="8.2" fill="#00FFFF"/>
<rect x="1124" y="2259.4" width="8.2" height="8.2" fill="#00FFFF"/>
<rect x="1141.6" y="2262.4" width="8.2" height="8.2" fill="#00FFFF"/>
<rect x="1159.3" y="2268.4" width="8.2" height="8.2" fill="#00FFFF"/>
<rect x="1176.9" y="2259.4" width="8.2" height="8.2" fill="#00FFFF"/>
<rect x="1194.6" y="2254.3" width="8.2" height="8.2" fill="#00FFFF"/>
<rect x="1212.2" y="2244.2" width="8.2" height="8.2" fill="#00FFFF"/>
<rect x="1229.8" y="2232.2" width="8.2" height="8.2" fill="#00FFFF"/>
<rect x="1247.5" y="2216" width="8.2" height="8.2" fill="#00FFFF"/>
<rect x="1265.1" y="2197.6" width="8.2" height="8.2" fill="#00FFFF"/>
<rect x="1282.8" y="2174.9" width="8.2" height="8.2" fill="#00FFFF"/>
<rect x="1300.4" y="2147.9" width="8.2" height="8.2" fill="#00FFFF"/>
<rect x="1318.1" y="2120.3" width="8.2" height="8.2" fill="#00FFFF"/>
<rect x="1335.7" y="2088.4" width="8.2" height="8.2" fill="#00FFFF"/>
<rect x="1353.4" y="2054.4" width="8.2" height="8.2" fill="#00FFFF"/>
<rect x="1371" y="2018.2" width="8.2" height="8.2" fill="#00FFFF"/>
<rect x="1388.7" y="1984" width="8.2" height="8.2" fill="#00FFFF"/>
<rect x="1406.3" y="1950.2" width="8.2" height="8.2" fill="#00FFFF"/>
<rect x="1423.9" y="1917.9" width="8.2" height="8.2" fill="#00FFFF"/>
<rect x="1441.6" y="1889.9" width="8.2" height="8.2" fill="#00FFFF"/>
<rect x="1459.2" y="1863.9" width="8.2" height="8.2" fill="#00FFFF"/>
<rect x="1476.9" y="1840.8" width="8.2" height="8.2" fill="#00FFFF"/>
<rect x="1494.5" y="1821.8" width="8.2" height="8.2" fill="#00FFFF"/>
<rect x="1512.2" y="1806.6" width="8.2" height="8.2" fill="#00FFFF"/>
<rect x="1529.8" y="1793.6" width="8.2" height="8.2" fill="#00FFFF"/>
<rect x="1547.5" y="1783.4" width="8.2" height="8.2" fill="#00FFFF"/>
<rect x="1565.1" y="1777.1" width="8.2" height="8.2" fill="#00FFFF"/>
<rect x="1582.7" y="1774.4" width="8.2" height="8.2" fill="#00FFFF"/>
<rect x="1600.4" y="1774.6" width="8.2" height="8.2" fill="#00FFFF"/>
<rect x="1618" y="1777.7" width="8.2" height="8.2" fill="#00FFFF"/>
<rect x="1635.7" y="1784.7" width="8.2" height="8.2" fill="#00FFFF"/>
<rect x="1653.3" y="1794.9" width="8.2" height="8.2" fill="#00FFFF"/>
<rect x="1671" y="1810.9" width="8.2" height="8.2" fill="#00FFFF"/>
<rect x="1688.6" y="1834.9" width="8.2" height="8.2" fill="#00FFFF"/>
<rect x="1706.3" y="1865.9" width="8.2" height="8.2" fill="#00FFFF"/>
<rect x="1723.9" y="1905.9" width="8.2" height="8.2" fill="#00FFFF"/>
<rect x="1741.6" y="1951.9" width="8.2" height="8.2" fill="#00FFFF"/>
<path d="M739.9 1818.3 L757.5 1834.8 L775.2 1851.9 L792.8 1870.9 L810.5 1890.5 L828.1 1910.8 L845.8 1931.3 L863.4 1941 L881 2011.2 L898.7 2039.1 L916.3 2067 L934 2093.1 L951.6 2118.3 L969.3 2141.5 L986.9 2162.7 L1004.6 2181.8 L1022.2 2197.9 L1039.8 2212.1 L1057.5 2223.5 L1075.1 2231.6 L1092.8 2238.3 L1110.4 2241.3 L1128.1 2241.3 L1145.7 2240.3 L1163.4 2228.2 L1181 2228.2 L1198.7 2218.1 L1216.3 2203 L1233.9 2186 L1251.6 2165.3 L1269.2 2142 L1286.9 2115.5 L1304.5 2087 L1322.2 2058 L1339.8 2023.6 L1357.5 1989.9 L1375.1 1957.9 L1392.8 1925.7 L1410.4 1897.8 L1428 1871.8 L1445.7 1847.7 L1463.3 1828.7 L1481 1811 L1498.6 1796.4 L1516.3 1785.6 L1533.9 1776.8 L1551.6 1770.4 L1569.2 1766.6 L1586.8 1764.7 L1604.5 1765.5 L1622.1 1770 L1639.8 1780 L1657.4 1793 L1675.1 1813 L1692.7 1840 L1710.4 1873.8 L1728 1914.5 L1745.7 1968.1" fill="none" stroke="#FF00FF" stroke-width="3" stroke-linejoin="round"/>
<rect x="735.8" y="1814.2" width="8.2" height="8.2" fill="#FF00FF"/>
<rect x="753.4" y="1830.7" width="8.2" height="8.2" fill="#FF00FF"/>
<rect x="771.1" y="1847.8" width="8.2" height="8.2" fill="#FF00FF"/>
<rect x="788.7" y="1866.8" width="8.2" height="8.2" fill="#FF00FF"/>
<rect x="806.4" y="1886.4" width="8.2" height="8.2" fill="#FF00FF"/>
<rect x="824" y="1906.7" width="8.2" height="8.2" fill="#FF00FF"/>
<rect x="841.7" y="1927.2" width="8.2" height="8.2" fill="#FF00FF"/>
<rect x="859.3" y="1936.9" width="8.2" height="8.2" fill="#FF00FF"/>
<rect x="876.9" y="2007.1" width="8.2" height="8.2" fill="#FF00FF"/>
<rect x="894.6" y="2035" width="8.2" height="8.2" fill="#FF00FF"/>
<rect x="912.2" y="2062.9" width="8.2" height="8.2" fill="#FF00FF"/>
<rect x="929.9" y="2089" width="8.2" height="8.2" fill="#FF00FF"/>
<rect x="947.5" y="2114.2" width="8.2" height="8.2" fill="#FF00FF"/>
<rect x="965.2" y="2137.4" width="8.2" height="8.2" fill="#FF00FF"/>
<rect x="982.8" y="2158.6" width="8.2" height="8.2" fill="#FF00FF"/>
<rect x="1000.5" y="2177.7" width="8.2" height="8.2" fill="#FF00FF"/>
<rect x="1018.1" y="2193.8" width="8.2" height="8.2" fill="#FF00FF"/>
<rect x="1035.8" y="2208" width="8.2" height="8.2" fill="#FF00FF"/>
<rect x="1053.4" y="2219.4" width="8.2" height="8.2" fill="#FF00FF"/>
<rect x="1071" y="2227.5" width="8.2" height="8.2" fill="#FF00FF"/>
<rect x="1088.7" y="2234.2" width="8.2" height="8.2" fill="#FF00FF"/>
<rect x="1106.3" y="2237.2" width="8.2" height="8.2" fill="#FF00FF"/>
<rect x="1124" y="2237.2" width="8.2" height="8.2" fill="#FF00FF"/>
<rect x="1141.6" y="2236.2" width="8.2" height="8.2" fill="#FF00FF"/>
<rect x="1159.3" y="2224.1" width="8.2" height="8.2" fill="#FF00FF"/>
<rect x="1176.9" y="2224.1" width="8.2" height="8.2" fill="#FF00FF"/>
<rect x="1194.6" y="2214" width="8.2" height="8.2" fill="#FF00FF"/>
<rect x="1212.2" y="2198.9" width="8.2" height="8.2" fill="#FF00FF"/>
<rect x="1229.8" y="2181.9" width="8.2" height="8.2" fill="#FF00FF"/>
<rect x="1247.5" y="2161.2" width="8.2" height="8.2" fill="#FF00FF"/>
<rect x="1265.1" y="2137.9" width="8.2" height="8.2" fill="#FF00FF"/>
<rect x="1282.8" y="2111.4" width="8.2" height="8.2" fill="#FF00FF"/>
<rect x="1300.4" y="2082.9" width="8.2" height="8.2" fill="#FF00FF"/>
<rect x="1318.1" y="2053.9" width="8.2" height="8.2" fill="#FF00FF"/>
<rect x="1335.7" y="2019.5" width="8.2" height="8.2" fill="#FF00FF"/>
<rect x="1353.4" y="1985.8" width="8.2" height="8.2" fill="#FF00FF"/>
<rect x="1371" y="1953.8" width="8.2" height="8.2" fill="#FF00FF"/>
<rect x="1388.7" y="1921.6" width="8.2" height="8.2" fill="#FF00FF"/>
<rect x="1406.3" y="1893.7" width="8.2" height="8.2" fill="#FF00FF"/>
<rect x="1423.9" y="1867.7" width="8.2" height="8.2" fill="#FF00FF"/>
<rect x="1441.6" y="1843.6" width="8.2" height="8.2" fill="#FF00FF"/>
<rect x="1459.2" y="1824.6" width="8.2" height="8.2" fill="#FF00FF"/>
<rect x="1476.9" y="1806.9" width="8.2" height="8.2" fill="#FF00FF"/>
<rect x="1494.5" y="1792.3" width="8.2" height="8.2" fill="#FF00FF"/>
<rect x="1512.2" y="1781.5" width="8.2" height="8.2" fill="#FF00FF"/>
<rect x="1529.8" y="1772.7" width="8.2" height="8.2" fill="#FF00FF"/>
<rect x="1547.5" y="1766.3" width="8.2" height="8.2" fill="#FF00FF"/>
<rect x="1565.1" y="1762.5" width="8.2" height="8.2" fill="#FF00FF"/>
<rect x="1582.7" y="1760.6" width="8.2" height="8.2" fill="#FF00FF"/>
<rect x="1600.4" y="1761.4" width="8.2" height="8.2" fill="#FF00FF"/>
<rect x="1618" y="1765.9" width="8.2" height="8.2" fill="#FF00FF"/>
<rect x="1635.7" y="1775.9" width="8.2" height="8.2" fill="#FF00FF"/>
<rect x="1653.3" y="1788.9" width="8.2" height="8.2" fill="#FF00FF"/>
<rect x="1671" y="1808.9" width="8.2" height="8.2" fill="#FF00FF"/>
<rect x="1688.6" y="1835.9" width="8.2" height="8.2" fill="#FF00FF"/>
<rect x="1706.3" y="1869.7" width="8.2" height="8.2" fill="#FF00FF"/>
<rect x="1723.9" y="1910.4" width="8.2" height="8.2" fill="#FF00FF"/>
<rect x="1741.6" y="1964" width="8.2" height="8.2" fill="#FF00FF"/>
<path d="M739.9 1841.1 L757.5 1858.2 L775.2 1876 L792.8 1896.2 L810.5 1917.8 L828.1 1940 L845.8 1962 L863.4 1972 L881 2050 L898.7 2082 L916.3 2110.2 L934 2138.5 L951.6 2164.7 L969.3 2187.9 L986.9 2208 L1004.6 2227.2 L1022.2 2241.3 L1039.8 2253.4 L1057.5 2262.5 L1075.1 2268.5 L1092.8 2272.5 L1110.4 2273.5 L1128.1 2271.5 L1145.7 2269.5 L1163.4 2261 L1181 2252 L1198.7 2240 L1216.3 2225 L1233.9 2207 L1251.6 2186.7 L1269.2 2163.7 L1286.9 2137.2 L1304.5 2109 L1322.2 2080 L1339.8 2048 L1357.5 2015 L1375.1 1983 L1392.8 1955.4 L1410.4 1926.3 L1428 1899.7 L1445.7 1874.3 L1463.3 1850.9 L1481 1831.9 L1498.6 1814.8 L1516.3 1800.8 L1533.9 1789.4 L1551.6 1781.8 L1569.2 1776.8 L1586.8 1775.5 L1604.5 1775.5 L1622.1 1779 L1639.8 1786 L1657.4 1797 L1675.1 1814 L1692.7 1838 L1710.4 1869 L1728 1909 L1745.7 1958" fill="none" stroke="#FFFF00" stroke-width="3" stroke-linejoin="round"/>
<rect x="735.8" y="1837" width="8.2" height="8.2" fill="#FFFF00"/>
<rect x="753.4" y="1854.1" width="8.2" height="8.2" fill="#FFFF00"/>
<rect x="771.1" y="1871.9" width="8.2" height="8.2" fill="#FFFF00"/>
<rect x="788.7" y="1892.1" width="8.2" height="8.2" fill="#FFFF00"/>
<rect x="806.4" y="1913.7" width="8.2" height="8.2" fill="#FFFF00"/>
<rect x="824" y="1935.9" width="8.2" height="8.2" fill="#FFFF00"/>
<rect x="841.7" y="1957.9" width="8.2" height="8.2" fill="#FFFF00"/>
<rect x="859.3" y="1967.9" width="8.2" height="8.2" fill="#FFFF00"/>
<rect x="876.9" y="2045.9" width="8.2" height="8.2" fill="#FFFF00"/>
<rect x="894.6" y="2077.9" width="8.2" height="8.2" fill="#FFFF00"/>
<rect x="912.2" y="2106.1" width="8.2" height="8.2" fill="#FFFF00"/>
<rect x="929.9" y="2134.4" width="8.2" height="8.2" fill="#FFFF00"/>
<rect x="947.5" y="2160.6" width="8.2" height="8.2" fill="#FFFF00"/>
<rect x="965.2" y="2183.8" width="8.2" height="8.2" fill="#FFFF00"/>
<rect x="982.8" y="2203.9" width="8.2" height="8.2" fill="#FFFF00"/>
<rect x="1000.5" y="2223.1" width="8.2" height="8.2" fill="#FFFF00"/>
<rect x="1018.1" y="2237.2" width="8.2" height="8.2" fill="#FFFF00"/>
<rect x="1035.8" y="2249.3" width="8.2" height="8.2" fill="#FFFF00"/>
<rect x="1053.4" y="2258.4" width="8.2" height="8.2" fill="#FFFF00"/>
<rect x="1071" y="2264.4" width="8.2" height="8.2" fill="#FFFF00"/>
<rect x="1088.7" y="2268.4" width="8.2" height="8.2" fill="#FFFF00"/>
<rect x="1106.3" y="2269.4" width="8.2" height="8.2" fill="#FFFF00"/>
<rect x="1124" y="2267.4" width="8.2" height="8.2" fill="#FFFF00"/>
<rect x="1141.6" y="2265.4" width="8.2" height="8.2" fill="#FFFF00"/>
<rect x="1159.3" y="2256.9" width="8.2" height="8.2" fill="#FFFF00"/>
<rect x="1176.9" y="2247.9" width="8.2" height="8.2" fill="#FFFF00"/>
<rect x="1194.6" y="2235.9" width="8.2" height="8.2" fill="#FFFF00"/>
<rect x="1212.2" y="2220.9" width="8.2" height="8.2" fill="#FFFF00"/>
<rect x="1229.8" y="2202.9" width="8.2" height="8.2" fill="#FFFF00"/>
<rect x="1247.5" y="2182.6" width="8.2" height="8.2" fill="#FFFF00"/>
<rect x="1265.1" y="2159.6" width="8.2" height="8.2" fill="#FFFF00"/>
<rect x="1282.8" y="2133.1" width="8.2" height="8.2" fill="#FFFF00"/>
<rect x="1300.4" y="2104.9" width="8.2" height="8.2" fill="#FFFF00"/>
<rect x="1318.1" y="2075.9" width="8.2" height="8.2" fill="#FFFF00"/>
<rect x="1335.7" y="2043.9" width="8.2" height="8.2" fill="#FFFF00"/>
<rect x="1353.4" y="2010.9" width="8.2" height="8.2" fill="#FFFF00"/>
<rect x="1371" y="1978.9" width="8.2" height="8.2" fill="#FFFF00"/>
<rect x="1388.7" y="1951.3" width="8.2" height="8.2" fill="#FFFF00"/>
<rect x="1406.3" y="1922.2" width="8.2" height="8.2" fill="#FFFF00"/>
<rect x="1423.9" y="1895.6" width="8.2" height="8.2" fill="#FFFF00"/>
<rect x="1441.6" y="1870.2" width="8.2" height="8.2" fill="#FFFF00"/>
<rect x="1459.2" y="1846.8" width="8.2" height="8.2" fill="#FFFF00"/>
<rect x="1476.9" y="1827.8" width="8.2" height="8.2" fill="#FFFF00"/>
<rect x="1494.5" y="1810.7" width="8.2" height="8.2" fill="#FFFF00"/>
<rect x="1512.2" y="1796.7" width="8.2" height="8.2" fill="#FFFF00"/>
<rect x="1529.8" y="1785.3" width="8.2" height="8.2" fill="#FFFF00"/>
<rect x="1547.5" y="1777.7" width="8.2" height="8.2" fill="#FFFF00"/>
<rect x="1565.1" y="1772.7" width="8.2" height="8.2" fill="#FFFF00"/>
<rect x="1582.7" y="1771.4" width="8.2" height="8.2" fill="#FFFF00"/>
<rect x="1600.4" y="1771.4" width="8.2" height="8.2" fill="#FFFF00"/>
<rect x="1618" y="1774.9" width="8.2" height="8.2" fill="#FFFF00"/>
<rect x="1635.7" y="1781.9" width="8.2" height="8.2" fill="#FFFF00"/>
<rect x="1653.3" y="1792.9" width="8.2" height="8.2" fill="#FFFF00"/>
<rect x="1671" y="1809.9" width="8.2" height="8.2" fill="#FFFF00"/>
<rect x="1688.6" y="1833.9" width="8.2" height="8.2" fill="#FFFF00"/>
<rect x="1706.3" y="1864.9" width="8.2" height="8.2" fill="#FFFF00"/>
<rect x="1723.9" y="1904.9" width="8.2" height="8.2" fill="#FFFF00"/>
<rect x="1741.6" y="1953.9" width="8.2" height="8.2" fill="#FFFF00"/>
<path d="M739.9 1833.8 L757.5 1851 L775.2 1870 L792.8 1892 L810.5 1914 L828.1 1936.8 L845.8 1959.9 L863.4 1969.7 L881 2055.6 L898.7 2086.8 L916.3 2117.5 L934 2145.5 L951.6 2172.7 L969.3 2195.9 L986.9 2217.1 L1004.6 2235.2 L1022.2 2249 L1039.8 2261.5 L1057.5 2269.5 L1075.1 2275.6 L1092.8 2279.6 L1110.4 2279.6 L1128.1 2276.6 L1145.7 2272.5 L1163.4 2262.5 L1181 2254.4 L1198.7 2241.3 L1216.3 2224.8 L1233.9 2205.7 L1251.6 2182.7 L1269.2 2158.5 L1286.9 2130.9 L1304.5 2100.9 L1322.2 2069.8 L1339.8 2037.4 L1357.5 2002 L1375.1 1970 L1392.8 1937.4 L1410.4 1909.1 L1428 1882.6 L1445.7 1857.9 L1463.3 1836.9 L1481 1818.6 L1498.6 1803.4 L1516.3 1791.3 L1533.9 1780.6 L1551.6 1774.2 L1569.2 1770.3 L1586.8 1768.9 L1604.5 1769.8 L1622.1 1774 L1639.8 1783.1 L1657.4 1795.1 L1675.1 1812.9 L1692.7 1837 L1710.4 1868.5 L1728 1908.9 L1745.7 1960.2" fill="none" stroke="#000000" stroke-width="3" stroke-linejoin="round"/>
<rect x="735.8" y="1829.7" width="8.2" height="8.2" fill="#000000"/>
<rect x="753.4" y="1846.9" width="8.2" height="8.2" fill="#000000"/>
<rect x="771.1" y="1865.9" width="8.2" height="8.2" fill="#000000"/>
<rect x="788.7" y="1887.9" width="8.2" height="8.2" fill="#000000"/>
<rect x="806.4" y="1909.9" width="8.2" height="8.2" fill="#000000"/>
<rect x="824" y="1932.7" width="8.2" height="8.2" fill="#000000"/>
<rect x="841.7" y="1955.8" width="8.2" height="8.2" fill="#000000"/>
<rect x="859.3" y="1965.6" width="8.2" height="8.2" fill="#000000"/>
<rect x="876.9" y="2051.5" width="8.2" height="8.2" fill="#000000"/>
<rect x="894.6" y="2082.7" width="8.2" height="8.2" fill="#000000"/>
<rect x="912.2" y="2113.4" width="8.2" height="8.2" fill="#000000"/>
<rect x="929.9" y="2141.4" width="8.2" height="8.2" fill="#000000"/>
<rect x="947.5" y="2168.6" width="8.2" height="8.2" fill="#000000"/>
<rect x="965.2" y="2191.8" width="8.2" height="8.2" fill="#000000"/>
<rect x="982.8" y="2213" width="8.2" height="8.2" fill="#000000"/>
<rect x="1000.5" y="2231.1" width="8.2" height="8.2" fill="#000000"/>
<rect x="1018.1" y="2244.9" width="8.2" height="8.2" fill="#000000"/>
<rect x="1035.8" y="2257.4" width="8.2" height="8.2" fill="#000000"/>
<rect x="1053.4" y="2265.4" width="8.2" height="8.2" fill="#000000"/>
<rect x="1071" y="2271.5" width="8.2" height="8.2" fill="#000000"/>
<rect x="1088.7" y="2275.5" width="8.2" height="8.2" fill="#000000"/>
<rect x="1106.3" y="2275.5" width="8.2" height="8.2" fill="#000000"/>
<rect x="1124" y="2272.5" width="8.2" height="8.2" fill="#000000"/>
<rect x="1141.6" y="2268.4" width="8.2" height="8.2" fill="#000000"/>
<rect x="1159.3" y="2258.4" width="8.2" height="8.2" fill="#000000"/>
<rect x="1176.9" y="2250.3" width="8.2" height="8.2" fill="#000000"/>
<rect x="1194.6" y="2237.2" width="8.2" height="8.2" fill="#000000"/>
<rect x="1212.2" y="2220.7" width="8.2" height="8.2" fill="#000000"/>
<rect x="1229.8" y="2201.6" width="8.2" height="8.2" fill="#000000"/>
<rect x="1247.5" y="2178.6" width="8.2" height="8.2" fill="#000000"/>
<rect x="1265.1" y="2154.4" width="8.2" height="8.2" fill="#000000"/>
<rect x="1282.8" y="2126.8" width="8.2" height="8.2" fill="#000000"/>
<rect x="1300.4" y="2096.8" width="8.2" height="8.2" fill="#000000"/>
<rect x="1318.1" y="2065.7" width="8.2" height="8.2" fill="#000000"/>
<rect x="1335.7" y="2033.3" width="8.2" height="8.2" fill="#000000"/>
<rect x="1353.4" y="1997.9" width="8.2" height="8.2" fill="#000000"/>
<rect x="1371" y="1965.9" width="8.2" height="8.2" fill="#000000"/>
<rect x="1388.7" y="1933.3" width="8.2" height="8.2" fill="#000000"/>
<rect x="1406.3" y="1905" width="8.2" height="8.2" fill="#000000"/>
<rect x="1423.9" y="1878.5" width="8.2" height="8.2" fill="#000000"/>
<rect x="1441.6" y="1853.8" width="8.2" height="8.2" fill="#000000"/>
<rect x="1459.2" y="1832.8" width="8.2" height="8.2" fill="#000000"/>
<rect x="1476.9" y="1814.5" width="8.2" height="8.2" fill="#000000"/>
<rect x="1494.5" y="1799.3" width="8.2" height="8.2" fill="#000000"/>
<rect x="1512.2" y="1787.2" width="8.2" height="8.2" fill="#000000"/>
<rect x="1529.8" y="1776.5" width="8.2" height="8.2" fill="#000000"/>
<rect x="1547.5" y="1770.1" width="8.2" height="8.2" fill="#000000"/>
<rect x="1565.1" y="1766.2" width="8.2" height="8.2" fill="#000000"/>
<rect x="1582.7" y="1764.8" width="8.2" height="8.2" fill="#000000"/>
<rect x="1600.4" y="1765.7" width="8.2" height="8.2" fill="#000000"/>
<rect x="1618" y="1769.9" width="8.2" height="8.2" fill="#000000"/>
<rect x="1635.7" y="1779" width="8.2" height="8.2" fill="#000000"/>
<rect x="1653.3" y="1791" width="8.2" height="8.2" fill="#000000"/>
<rect x="1671" y="1808.8" width="8.2" height="8.2" fill="#000000"/>
<rect x="1688.6" y="1832.9" width="8.2" height="8.2" fill="#000000"/>
<rect x="1706.3" y="1864.4" width="8.2" height="8.2" fill="#000000"/>
<rect x="1723.9" y="1904.8" width="8.2" height="8.2" fill="#000000"/>
<rect x="1741.6" y="1956.1" width="8.2" height="8.2" fill="#000000"/>
</g>
<line x1="510.2" y1="1400.5" x2="510.2" y2="2383.8" stroke="#000" stroke-width="5.2" stroke-linecap="butt"/>
<line x1="1922.5" y1="1400.9" x2="1922.5" y2="2383.8" stroke="#000" stroke-width="5.6" stroke-linecap="butt"/>
<line x1="507.6" y1="2363.6" x2="1925.3" y2="2363.6" stroke="#000" stroke-width="5.2" stroke-linecap="butt"/>
<line x1="487" y1="2284.2" x2="510.2" y2="2284.2" stroke="#000" stroke-width="4.6" stroke-linecap="butt"/>
<text x="477" y="2295.6" font-family="'Liberation Sans', Arial, sans-serif" font-size="43.5" font-weight="bold" text-anchor="end" letter-spacing="0.9">10</text>
<line x1="487" y1="1928.2" x2="510.2" y2="1928.2" stroke="#000" stroke-width="4.6" stroke-linecap="butt"/>
<text x="477" y="1939.6" font-family="'Liberation Sans', Arial, sans-serif" font-size="43.5" font-weight="bold" text-anchor="end" letter-spacing="0.9">100</text>
<line x1="487" y1="1572.2" x2="510.2" y2="1572.2" stroke="#000" stroke-width="4.6" stroke-linecap="butt"/>
<text x="477" y="1583.6" font-family="'Liberation Sans', Arial, sans-serif" font-size="43.5" font-weight="bold" text-anchor="end" letter-spacing="0.9">1000</text>
<line x1="497.5" y1="2035.4" x2="510.2" y2="2035.4" stroke="#000" stroke-width="4.6" stroke-linecap="butt"/>
<line x1="497.5" y1="1679.4" x2="510.2" y2="1679.4" stroke="#000" stroke-width="4.6" stroke-linecap="butt"/>
<line x1="1900" y1="1497.2" x2="1922.5" y2="1497.2" stroke="#000" stroke-width="4.6" stroke-linecap="butt"/>
<text x="1946.2" y="1509.6" font-family="'Liberation Sans', Arial, sans-serif" font-size="43.5" font-weight="bold" text-anchor="start" letter-spacing="0.5">20</text>
<line x1="1900" y1="1689.7" x2="1922.5" y2="1689.7" stroke="#000" stroke-width="4.6" stroke-linecap="butt"/>
<text x="1946.2" y="1702.1" font-family="'Liberation Sans', Arial, sans-serif" font-size="43.5" font-weight="bold" text-anchor="start" letter-spacing="0.5">0</text>
<line x1="1900" y1="1882.2" x2="1922.5" y2="1882.2" stroke="#000" stroke-width="4.6" stroke-linecap="butt"/>
<text x="1946.2" y="1894.7" font-family="'Liberation Sans', Arial, sans-serif" font-size="43.5" font-weight="bold" text-anchor="start" letter-spacing="0.5">-20</text>
<line x1="1900" y1="2074.8" x2="1922.5" y2="2074.8" stroke="#000" stroke-width="4.6" stroke-linecap="butt"/>
<text x="1946.2" y="2087.2" font-family="'Liberation Sans', Arial, sans-serif" font-size="43.5" font-weight="bold" text-anchor="start" letter-spacing="0.5">-40</text>
<line x1="1900" y1="2267.3" x2="1922.5" y2="2267.3" stroke="#000" stroke-width="4.6" stroke-linecap="butt"/>
<text x="1946.2" y="2279.7" font-family="'Liberation Sans', Arial, sans-serif" font-size="43.5" font-weight="bold" text-anchor="start" letter-spacing="0.5">-60</text>
<line x1="1910.5" y1="1400.9" x2="1922.5" y2="1400.9" stroke="#000" stroke-width="4.6" stroke-linecap="butt"/>
<line x1="1910.5" y1="1593.4" x2="1922.5" y2="1593.4" stroke="#000" stroke-width="4.6" stroke-linecap="butt"/>
<line x1="1910.5" y1="1786" x2="1922.5" y2="1786" stroke="#000" stroke-width="4.6" stroke-linecap="butt"/>
<line x1="1910.5" y1="1978.5" x2="1922.5" y2="1978.5" stroke="#000" stroke-width="4.6" stroke-linecap="butt"/>
<line x1="1910.5" y1="2171.1" x2="1922.5" y2="2171.1" stroke="#000" stroke-width="4.6" stroke-linecap="butt"/>
<line x1="510.5" y1="2363.6" x2="510.5" y2="2383.8" stroke="#000" stroke-width="4.6" stroke-linecap="butt"/>
<text x="463.9" y="2449.3" font-family="'Liberation Sans', Arial, sans-serif" font-size="56" font-weight="normal" text-anchor="start" letter-spacing="0">10</text>
<text x="528.5" y="2420.6" font-family="'Liberation Sans', Arial, sans-serif" font-size="33" font-weight="normal" text-anchor="start" letter-spacing="0">-2</text>
<line x1="687" y1="2363.6" x2="687" y2="2383.8" stroke="#000" stroke-width="4.6" stroke-linecap="butt"/>
<text x="640.4" y="2449.3" font-family="'Liberation Sans', Arial, sans-serif" font-size="56" font-weight="normal" text-anchor="start" letter-spacing="0">10</text>
<text x="704.9" y="2420.6" font-family="'Liberation Sans', Arial, sans-serif" font-size="33" font-weight="normal" text-anchor="start" letter-spacing="0">-1</text>
<line x1="863.4" y1="2363.6" x2="863.4" y2="2383.8" stroke="#000" stroke-width="4.6" stroke-linecap="butt"/>
<text x="822.4" y="2449.3" font-family="'Liberation Sans', Arial, sans-serif" font-size="56" font-weight="normal" text-anchor="start" letter-spacing="0">10</text>
<text x="886.4" y="2420.6" font-family="'Liberation Sans', Arial, sans-serif" font-size="33" font-weight="normal" text-anchor="start" letter-spacing="0">0</text>
<line x1="1039.8" y1="2363.6" x2="1039.8" y2="2383.8" stroke="#000" stroke-width="4.6" stroke-linecap="butt"/>
<text x="998.8" y="2449.3" font-family="'Liberation Sans', Arial, sans-serif" font-size="56" font-weight="normal" text-anchor="start" letter-spacing="0">10</text>
<text x="1062.8" y="2420.6" font-family="'Liberation Sans', Arial, sans-serif" font-size="33" font-weight="normal" text-anchor="start" letter-spacing="0">1</text>
<line x1="1216.3" y1="2363.6" x2="1216.3" y2="2383.8" stroke="#000" stroke-width="4.6" stroke-linecap="butt"/>
<text x="1175.2" y="2449.3" font-family="'Liberation Sans', Arial, sans-serif" font-size="56" font-weight="normal" text-anchor="start" letter-spacing="0">10</text>
<text x="1239.2" y="2420.6" font-family="'Liberation Sans', Arial, sans-serif" font-size="33" font-weight="normal" text-anchor="start" letter-spacing="0">2</text>
<line x1="1392.8" y1="2363.6" x2="1392.8" y2="2383.8" stroke="#000" stroke-width="4.6" stroke-linecap="butt"/>
<text x="1351.7" y="2449.3" font-family="'Liberation Sans', Arial, sans-serif" font-size="56" font-weight="normal" text-anchor="start" letter-spacing="0">10</text>
<text x="1415.7" y="2420.6" font-family="'Liberation Sans', Arial, sans-serif" font-size="33" font-weight="normal" text-anchor="start" letter-spacing="0">3</text>
<line x1="1569.2" y1="2363.6" x2="1569.2" y2="2383.8" stroke="#000" stroke-width="4.6" stroke-linecap="butt"/>
<text x="1528.1" y="2449.3" font-family="'Liberation Sans', Arial, sans-serif" font-size="56" font-weight="normal" text-anchor="start" letter-spacing="0">10</text>
<text x="1592.1" y="2420.6" font-family="'Liberation Sans', Arial, sans-serif" font-size="33" font-weight="normal" text-anchor="start" letter-spacing="0">4</text>
<line x1="1745.7" y1="2363.6" x2="1745.7" y2="2383.8" stroke="#000" stroke-width="4.6" stroke-linecap="butt"/>
<text x="1704.6" y="2449.3" font-family="'Liberation Sans', Arial, sans-serif" font-size="56" font-weight="normal" text-anchor="start" letter-spacing="0">10</text>
<text x="1768.6" y="2420.6" font-family="'Liberation Sans', Arial, sans-serif" font-size="33" font-weight="normal" text-anchor="start" letter-spacing="0">5</text>
<line x1="1922.1" y1="2363.6" x2="1922.1" y2="2383.8" stroke="#000" stroke-width="4.6" stroke-linecap="butt"/>
<text x="1881" y="2449.3" font-family="'Liberation Sans', Arial, sans-serif" font-size="56" font-weight="normal" text-anchor="start" letter-spacing="0">10</text>
<text x="1945" y="2420.6" font-family="'Liberation Sans', Arial, sans-serif" font-size="33" font-weight="normal" text-anchor="start" letter-spacing="0">6</text>
<text x="1215.9" y="1478.7" font-family="'Liberation Sans', Arial, sans-serif" font-size="46" font-weight="bold" text-anchor="start" letter-spacing="2">(b)</text>
<text x="980.1" y="2545.7" font-family="'Liberation Serif', 'Times New Roman', serif" font-size="65" letter-spacing="1.8">Frequency (Hz)</text>
<text transform="translate(2082.2 2055.4) rotate(-90)" font-family="'Liberation Serif', 'Times New Roman', serif" font-size="65.5" letter-spacing="-0.3">Phase angle</text>
<text transform="translate(355.1 2147.9) rotate(-90)" font-family="'Liberation Serif', 'Times New Roman', serif" font-size="65" letter-spacing="0">Z</text>
<text transform="translate(374.9 2089.2) rotate(-90)" font-family="'Liberation Serif', 'Times New Roman', serif" font-size="65" letter-spacing="0">mode</text>
<text transform="translate(355 1924.2) rotate(-90)" font-family="'Liberation Serif', 'Times New Roman', serif" font-size="65" letter-spacing="0">(</text>
<text transform="translate(354.9 1904.6) rotate(-90)" font-family="'Liberation Serif', 'Times New Roman', serif" font-size="65" letter-spacing="0">&#937;</text>
<text transform="translate(354.9 1829.2) rotate(-90)" font-family="'Liberation Serif', 'Times New Roman', serif" font-size="65" letter-spacing="0">cm</text>
<text transform="translate(326.6 1751.9) rotate(-90)" font-family="'Liberation Serif', 'Times New Roman', serif" font-size="65" letter-spacing="0">2</text>
<text transform="translate(355 1718.8) rotate(-90)" font-family="'Liberation Serif', 'Times New Roman', serif" font-size="65" letter-spacing="0">)</text>
<text transform="translate(103.9 2239.7) rotate(-90)" font-family="'Liberation Serif', 'Times New Roman', serif" font-size="65" letter-spacing="0">Z</text>
<text transform="translate(123.7 2182) rotate(-90)" font-family="'Liberation Serif', 'Times New Roman', serif" font-size="65" letter-spacing="0">mode</text>
<text transform="translate(104 2015.9) rotate(-90)" font-family="'Liberation Serif', 'Times New Roman', serif" font-size="65" letter-spacing="0">(</text>
<text transform="translate(104.3 1994.6) rotate(-90)" font-family="'Liberation Serif', 'Times New Roman', serif" font-size="65" letter-spacing="-1">ohm</text>
<text transform="translate(104 1865.8) rotate(-90)" font-family="'Liberation Serif', 'Times New Roman', serif" font-size="65" letter-spacing="0">cm</text>
<text transform="translate(76 1789.8) rotate(-90)" font-family="'Liberation Serif', 'Times New Roman', serif" font-size="65" letter-spacing="0">2</text>
<text transform="translate(104 1757) rotate(-90)" font-family="'Liberation Serif', 'Times New Roman', serif" font-size="65" letter-spacing="0">)</text>
<line x1="1642.5" y1="1418.9" x2="1667" y2="1418.9" stroke="#000000" stroke-width="3.2"/>
<line x1="1680" y1="1418.9" x2="1703" y2="1418.9" stroke="#000000" stroke-width="3.2"/>
<rect x="1668.2" y="1414.4" width="9" height="9" fill="#000000"/>
<text x="1713.8" y="1428.1" font-family="'Liberation Sans', Arial, sans-serif" font-size="41" font-weight="normal" text-anchor="start" letter-spacing="0.8">Blank</text>
<line x1="1642.5" y1="1482.5" x2="1667" y2="1482.5" stroke="#FF0000" stroke-width="2.6"/>
<line x1="1680" y1="1482.5" x2="1703" y2="1482.5" stroke="#FF0000" stroke-width="2.6"/>
<circle cx="1672.7" cy="1482.5" r="4.7" fill="#FF0000"/>
<text x="1714.6" y="1491.7" font-family="'Liberation Sans', Arial, sans-serif" font-size="41" font-weight="normal" text-anchor="start" letter-spacing="0.5">1x10</text>
<text x="1806.4" y="1478.2" font-family="'Liberation Sans', Arial, sans-serif" font-size="41" font-weight="normal" text-anchor="start" letter-spacing="0">-6</text>
<text x="1857.2" y="1491.7" font-family="'Liberation Sans', Arial, sans-serif" font-size="41" font-weight="normal" text-anchor="start" letter-spacing="0">M</text>
<line x1="1642.5" y1="1546" x2="1667" y2="1546" stroke="#00FF00" stroke-width="2.6"/>
<line x1="1680" y1="1546" x2="1703" y2="1546" stroke="#00FF00" stroke-width="2.6"/>
<path d="M1672.7 1539.7L1678.4 1549.1L1667 1549.1Z" fill="#00FF00"/>
<text x="1714.6" y="1555.2" font-family="'Liberation Sans', Arial, sans-serif" font-size="41" font-weight="normal" text-anchor="start" letter-spacing="0.5">3x10</text>
<text x="1806.4" y="1541.7" font-family="'Liberation Sans', Arial, sans-serif" font-size="41" font-weight="normal" text-anchor="start" letter-spacing="0">-6</text>
<text x="1857.2" y="1555.2" font-family="'Liberation Sans', Arial, sans-serif" font-size="41" font-weight="normal" text-anchor="start" letter-spacing="0">M</text>
<line x1="1642.5" y1="1609.6" x2="1667" y2="1609.6" stroke="#0000FF" stroke-width="2.6"/>
<line x1="1680" y1="1609.6" x2="1703" y2="1609.6" stroke="#0000FF" stroke-width="2.6"/>
<path d="M1667.1 1606.3L1678.3 1606.3L1672.7 1616.1Z" fill="#0000FF"/>
<text x="1714.6" y="1618.8" font-family="'Liberation Sans', Arial, sans-serif" font-size="41" font-weight="normal" text-anchor="start" letter-spacing="0.5">5x10</text>
<text x="1806.4" y="1605.3" font-family="'Liberation Sans', Arial, sans-serif" font-size="41" font-weight="normal" text-anchor="start" letter-spacing="0">-6</text>
<text x="1857.2" y="1618.8" font-family="'Liberation Sans', Arial, sans-serif" font-size="41" font-weight="normal" text-anchor="start" letter-spacing="0">M</text>
<line x1="1642.5" y1="1673.1" x2="1667" y2="1673.1" stroke="#00FFFF" stroke-width="2.6"/>
<line x1="1680" y1="1673.1" x2="1703" y2="1673.1" stroke="#00FFFF" stroke-width="2.6"/>
<circle cx="1672.7" cy="1673.1" r="4.7" fill="#00FFFF"/>
<text x="1714.6" y="1682.3" font-family="'Liberation Sans', Arial, sans-serif" font-size="41" font-weight="normal" text-anchor="start" letter-spacing="0.5">7x10</text>
<text x="1806.4" y="1668.8" font-family="'Liberation Sans', Arial, sans-serif" font-size="41" font-weight="normal" text-anchor="start" letter-spacing="0">-6</text>
<text x="1857.2" y="1682.3" font-family="'Liberation Sans', Arial, sans-serif" font-size="41" font-weight="normal" text-anchor="start" letter-spacing="0">M</text>
<line x1="1642.5" y1="1736.7" x2="1667" y2="1736.7" stroke="#FF00FF" stroke-width="2.6"/>
<line x1="1680" y1="1736.7" x2="1703" y2="1736.7" stroke="#FF00FF" stroke-width="2.6"/>
<path d="M1672.7 1731.3L1671.1 1735L1667.1 1735.4L1670.2 1738L1669.2 1742L1672.7 1739.9L1676.2 1742L1675.2 1738L1678.3 1735.4L1674.3 1735Z" fill="#FF00FF"/>
<text x="1714.6" y="1745.9" font-family="'Liberation Sans', Arial, sans-serif" font-size="41" font-weight="normal" text-anchor="start" letter-spacing="0.5">9x10</text>
<text x="1806.4" y="1732.4" font-family="'Liberation Sans', Arial, sans-serif" font-size="41" font-weight="normal" text-anchor="start" letter-spacing="0">-6</text>
<text x="1857.2" y="1745.9" font-family="'Liberation Sans', Arial, sans-serif" font-size="41" font-weight="normal" text-anchor="start" letter-spacing="0">M</text>
<line x1="1642.5" y1="1800.2" x2="1667" y2="1800.2" stroke="#FFFF00" stroke-width="2.6"/>
<line x1="1680" y1="1800.2" x2="1703" y2="1800.2" stroke="#FFFF00" stroke-width="2.6"/>
<circle cx="1672.7" cy="1800.2" r="4.9" fill="#FFFF00"/><circle cx="1671" cy="1798.6" r="2.1" fill="#FFFFA0"/><circle cx="1670.9" cy="1798.5" r="1" fill="#fff"/>
<text x="1714.6" y="1809.4" font-family="'Liberation Sans', Arial, sans-serif" font-size="41" font-weight="normal" text-anchor="start" letter-spacing="0.5">11x10</text>
<text x="1829.2" y="1795.9" font-family="'Liberation Sans', Arial, sans-serif" font-size="41" font-weight="normal" text-anchor="start" letter-spacing="0">-6</text>
<text x="1880" y="1809.4" font-family="'Liberation Sans', Arial, sans-serif" font-size="41" font-weight="normal" text-anchor="start" letter-spacing="0">M</text>
</svg></body></html>
